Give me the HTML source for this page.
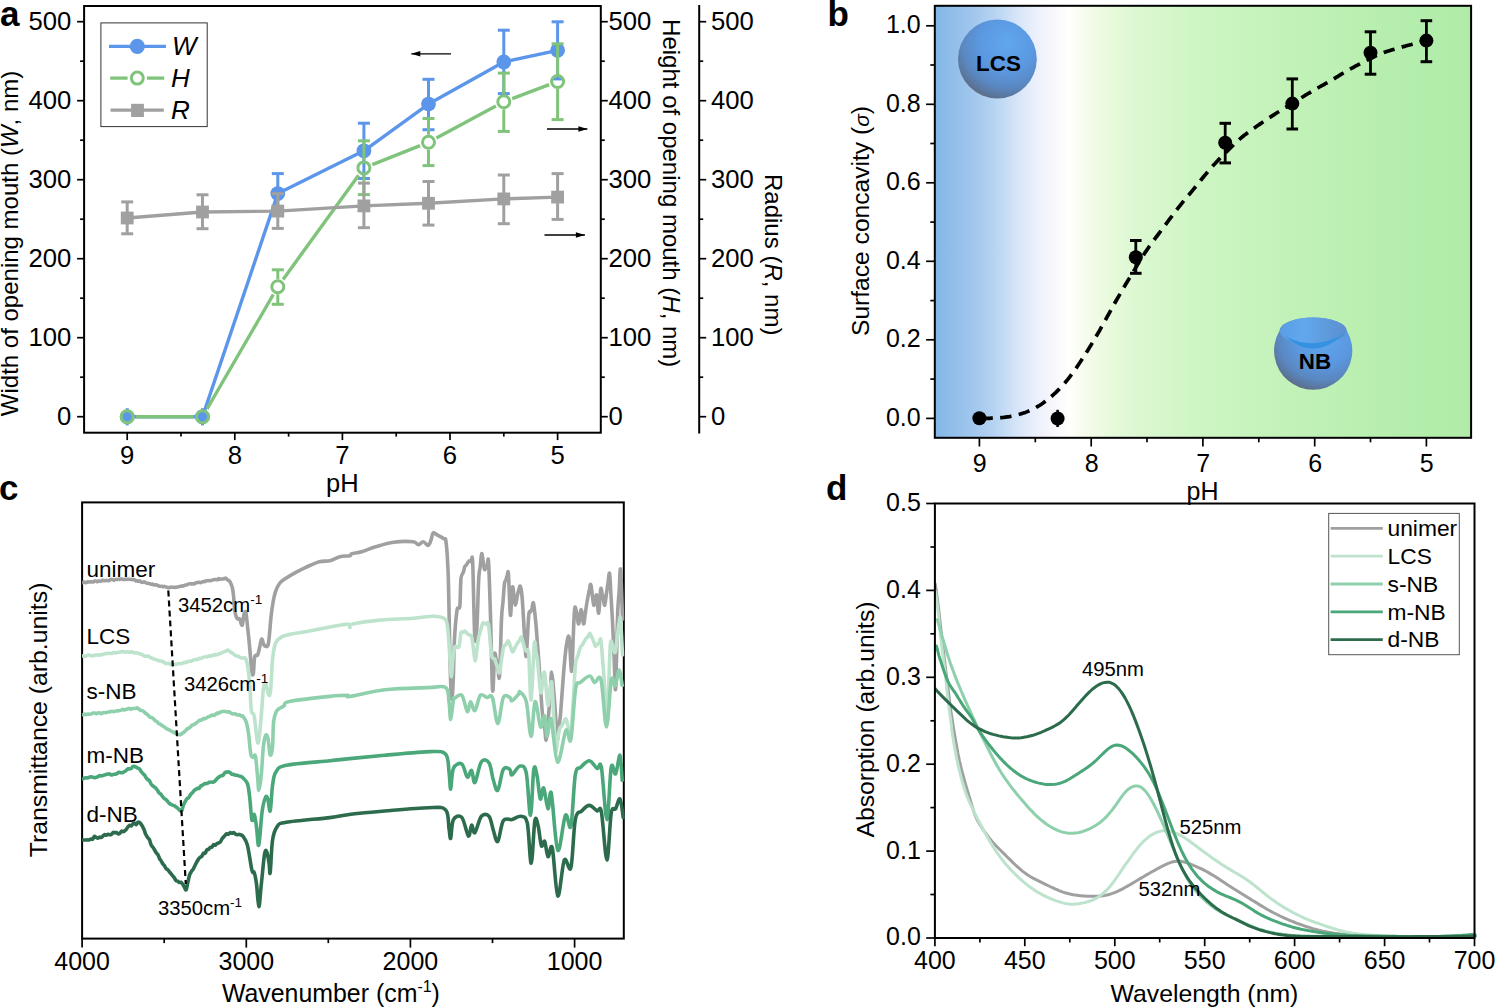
<!DOCTYPE html>
<html><head><meta charset="utf-8"><title>Figure</title>
<style>html,body{margin:0;padding:0;background:#fff;}svg{display:block;}text{font-family:"Liberation Sans",sans-serif;fill:#000;}</style>
</head><body>
<svg width="1495" height="1008" viewBox="0 0 1495 1008">
<rect width="1495" height="1008" fill="#fff"/>
<rect x="84.1" y="6" width="516.7" height="426.7" fill="none" stroke="#000" stroke-width="2.0"/>
<line x1="77.1" y1="416.7" x2="84.1" y2="416.7" stroke="#000" stroke-width="1.7" />
<text x="71.3" y="424.7" font-size="25.7" text-anchor="end" >0</text>
<line x1="80.1" y1="377.2" x2="84.1" y2="377.2" stroke="#000" stroke-width="1.7" />
<line x1="77.1" y1="337.7" x2="84.1" y2="337.7" stroke="#000" stroke-width="1.7" />
<text x="71.3" y="345.7" font-size="25.7" text-anchor="end" >100</text>
<line x1="80.1" y1="298.2" x2="84.1" y2="298.2" stroke="#000" stroke-width="1.7" />
<line x1="77.1" y1="258.7" x2="84.1" y2="258.7" stroke="#000" stroke-width="1.7" />
<text x="71.3" y="266.7" font-size="25.7" text-anchor="end" >200</text>
<line x1="80.1" y1="219.2" x2="84.1" y2="219.2" stroke="#000" stroke-width="1.7" />
<line x1="77.1" y1="179.7" x2="84.1" y2="179.7" stroke="#000" stroke-width="1.7" />
<text x="71.3" y="187.7" font-size="25.7" text-anchor="end" >300</text>
<line x1="80.1" y1="140.2" x2="84.1" y2="140.2" stroke="#000" stroke-width="1.7" />
<line x1="77.1" y1="100.7" x2="84.1" y2="100.7" stroke="#000" stroke-width="1.7" />
<text x="71.3" y="108.7" font-size="25.7" text-anchor="end" >400</text>
<line x1="80.1" y1="61.2" x2="84.1" y2="61.2" stroke="#000" stroke-width="1.7" />
<line x1="77.1" y1="21.7" x2="84.1" y2="21.7" stroke="#000" stroke-width="1.7" />
<text x="71.3" y="29.7" font-size="25.7" text-anchor="end" >500</text>
<line x1="600.8" y1="416.7" x2="607.8" y2="416.7" stroke="#000" stroke-width="1.7" />
<text x="608.4" y="424.7" font-size="25.7" text-anchor="start" >0</text>
<line x1="600.8" y1="377.2" x2="604.8" y2="377.2" stroke="#000" stroke-width="1.7" />
<line x1="600.8" y1="337.7" x2="607.8" y2="337.7" stroke="#000" stroke-width="1.7" />
<text x="608.4" y="345.7" font-size="25.7" text-anchor="start" >100</text>
<line x1="600.8" y1="298.2" x2="604.8" y2="298.2" stroke="#000" stroke-width="1.7" />
<line x1="600.8" y1="258.7" x2="607.8" y2="258.7" stroke="#000" stroke-width="1.7" />
<text x="608.4" y="266.7" font-size="25.7" text-anchor="start" >200</text>
<line x1="600.8" y1="219.2" x2="604.8" y2="219.2" stroke="#000" stroke-width="1.7" />
<line x1="600.8" y1="179.7" x2="607.8" y2="179.7" stroke="#000" stroke-width="1.7" />
<text x="608.4" y="187.7" font-size="25.7" text-anchor="start" >300</text>
<line x1="600.8" y1="140.2" x2="604.8" y2="140.2" stroke="#000" stroke-width="1.7" />
<line x1="600.8" y1="100.7" x2="607.8" y2="100.7" stroke="#000" stroke-width="1.7" />
<text x="608.4" y="108.7" font-size="25.7" text-anchor="start" >400</text>
<line x1="600.8" y1="61.2" x2="604.8" y2="61.2" stroke="#000" stroke-width="1.7" />
<line x1="600.8" y1="21.7" x2="607.8" y2="21.7" stroke="#000" stroke-width="1.7" />
<text x="608.4" y="29.7" font-size="25.7" text-anchor="start" >500</text>
<line x1="699.2" y1="5" x2="699.2" y2="433.6" stroke="#000" stroke-width="2.0" />
<line x1="699.2" y1="416.7" x2="706.2" y2="416.7" stroke="#000" stroke-width="1.7" />
<text x="710.9" y="424.7" font-size="25.7" text-anchor="start" >0</text>
<line x1="699.2" y1="377.2" x2="703.2" y2="377.2" stroke="#000" stroke-width="1.7" />
<line x1="699.2" y1="337.7" x2="706.2" y2="337.7" stroke="#000" stroke-width="1.7" />
<text x="710.9" y="345.7" font-size="25.7" text-anchor="start" >100</text>
<line x1="699.2" y1="298.2" x2="703.2" y2="298.2" stroke="#000" stroke-width="1.7" />
<line x1="699.2" y1="258.7" x2="706.2" y2="258.7" stroke="#000" stroke-width="1.7" />
<text x="710.9" y="266.7" font-size="25.7" text-anchor="start" >200</text>
<line x1="699.2" y1="219.2" x2="703.2" y2="219.2" stroke="#000" stroke-width="1.7" />
<line x1="699.2" y1="179.7" x2="706.2" y2="179.7" stroke="#000" stroke-width="1.7" />
<text x="710.9" y="187.7" font-size="25.7" text-anchor="start" >300</text>
<line x1="699.2" y1="140.2" x2="703.2" y2="140.2" stroke="#000" stroke-width="1.7" />
<line x1="699.2" y1="100.7" x2="706.2" y2="100.7" stroke="#000" stroke-width="1.7" />
<text x="710.9" y="108.7" font-size="25.7" text-anchor="start" >400</text>
<line x1="699.2" y1="61.2" x2="703.2" y2="61.2" stroke="#000" stroke-width="1.7" />
<line x1="699.2" y1="21.7" x2="706.2" y2="21.7" stroke="#000" stroke-width="1.7" />
<text x="710.9" y="29.7" font-size="25.7" text-anchor="start" >500</text>
<line x1="127.2" y1="432.6" x2="127.2" y2="440.1" stroke="#000" stroke-width="1.7" />
<text x="127.2" y="464.3" font-size="25.7" text-anchor="middle" >9</text>
<line x1="181" y1="432.6" x2="181" y2="436.6" stroke="#000" stroke-width="1.7" />
<line x1="234.8" y1="432.6" x2="234.8" y2="440.1" stroke="#000" stroke-width="1.7" />
<text x="234.8" y="464.3" font-size="25.7" text-anchor="middle" >8</text>
<line x1="288.6" y1="432.6" x2="288.6" y2="436.6" stroke="#000" stroke-width="1.7" />
<line x1="342.4" y1="432.6" x2="342.4" y2="440.1" stroke="#000" stroke-width="1.7" />
<text x="342.4" y="464.3" font-size="25.7" text-anchor="middle" >7</text>
<line x1="396.2" y1="432.6" x2="396.2" y2="436.6" stroke="#000" stroke-width="1.7" />
<line x1="450" y1="432.6" x2="450" y2="440.1" stroke="#000" stroke-width="1.7" />
<text x="450" y="464.3" font-size="25.7" text-anchor="middle" >6</text>
<line x1="503.8" y1="432.6" x2="503.8" y2="436.6" stroke="#000" stroke-width="1.7" />
<line x1="557.6" y1="432.6" x2="557.6" y2="440.1" stroke="#000" stroke-width="1.7" />
<text x="557.6" y="464.3" font-size="25.7" text-anchor="middle" >5</text>
<text x="342.3" y="491.6" font-size="25.5" text-anchor="middle" >pH</text>
<text transform="translate(17.9,416.2) rotate(-90)" font-size="24">Width of opening mouth (<tspan font-style="italic">W</tspan>, nm)</text>
<text transform="translate(663,19.1) rotate(90)" font-size="24">Height of opening mouth (<tspan font-style="italic">H</tspan>, nm)</text>
<text transform="translate(764.9,174) rotate(90)" font-size="24">Radius (<tspan font-style="italic">R</tspan>, nm)</text>
<line x1="411.3" y1="53.8" x2="451" y2="53.8" stroke="#000" stroke-width="1.3" />
<path d="M411.3,53.8 L420.3,51 L420.3,56.6 Z" fill="#000"/>
<line x1="547" y1="129" x2="587.4" y2="129" stroke="#000" stroke-width="1.3" />
<path d="M587.4,129 L578.4,126.2 L578.4,131.8 Z" fill="#000"/>
<line x1="544.5" y1="235" x2="584.9" y2="235" stroke="#000" stroke-width="1.3" />
<path d="M584.9,235 L575.9,232.2 L575.9,237.8 Z" fill="#000"/>
<polyline points="127.2,416.8 202.5,416.8 277.8,193.6 363.9,150.8 428.5,104.1 503.8,62 557.6,50.3" fill="none" stroke="#5b96ea" stroke-width="3.4" stroke-linejoin="round" stroke-linecap="round" />
<line x1="127.2" y1="408.2" x2="127.2" y2="425.4" stroke="#5b96ea" stroke-width="3" />
<line x1="202.5" y1="408.2" x2="202.5" y2="425.4" stroke="#5b96ea" stroke-width="3" />
<line x1="277.8" y1="173.6" x2="277.8" y2="187.6" stroke="#5b96ea" stroke-width="3" />
<line x1="277.8" y1="199.6" x2="277.8" y2="213.6" stroke="#5b96ea" stroke-width="3" />
<line x1="271.8" y1="173.6" x2="283.8" y2="173.6" stroke="#5b96ea" stroke-width="3" />
<line x1="271.8" y1="213.6" x2="283.8" y2="213.6" stroke="#5b96ea" stroke-width="3" />
<line x1="363.9" y1="123.2" x2="363.9" y2="144.8" stroke="#5b96ea" stroke-width="3" />
<line x1="363.9" y1="156.8" x2="363.9" y2="178.5" stroke="#5b96ea" stroke-width="3" />
<line x1="357.9" y1="123.2" x2="369.9" y2="123.2" stroke="#5b96ea" stroke-width="3" />
<line x1="357.9" y1="178.5" x2="369.9" y2="178.5" stroke="#5b96ea" stroke-width="3" />
<line x1="428.5" y1="79.3" x2="428.5" y2="98.1" stroke="#5b96ea" stroke-width="3" />
<line x1="428.5" y1="110.1" x2="428.5" y2="129.7" stroke="#5b96ea" stroke-width="3" />
<line x1="422.5" y1="79.3" x2="434.5" y2="79.3" stroke="#5b96ea" stroke-width="3" />
<line x1="422.5" y1="129.7" x2="434.5" y2="129.7" stroke="#5b96ea" stroke-width="3" />
<line x1="503.8" y1="30.2" x2="503.8" y2="56" stroke="#5b96ea" stroke-width="3" />
<line x1="503.8" y1="68" x2="503.8" y2="93.6" stroke="#5b96ea" stroke-width="3" />
<line x1="497.8" y1="30.2" x2="509.8" y2="30.2" stroke="#5b96ea" stroke-width="3" />
<line x1="497.8" y1="93.6" x2="509.8" y2="93.6" stroke="#5b96ea" stroke-width="3" />
<line x1="557.6" y1="21.8" x2="557.6" y2="44.3" stroke="#5b96ea" stroke-width="3" />
<line x1="557.6" y1="56.3" x2="557.6" y2="78.9" stroke="#5b96ea" stroke-width="3" />
<line x1="551.6" y1="21.8" x2="563.6" y2="21.8" stroke="#5b96ea" stroke-width="3" />
<line x1="551.6" y1="78.9" x2="563.6" y2="78.9" stroke="#5b96ea" stroke-width="3" />
<circle cx="127.2" cy="416.8" r="7.4" fill="#5b96ea"/>
<circle cx="202.5" cy="416.8" r="7.4" fill="#5b96ea"/>
<circle cx="277.8" cy="193.6" r="7.4" fill="#5b96ea"/>
<circle cx="363.9" cy="150.8" r="7.4" fill="#5b96ea"/>
<circle cx="428.5" cy="104.1" r="7.4" fill="#5b96ea"/>
<circle cx="503.8" cy="62" r="7.4" fill="#5b96ea"/>
<circle cx="557.6" cy="50.3" r="7.4" fill="#5b96ea"/>
<line x1="136.2" y1="416.8" x2="193.5" y2="416.8" stroke="#80c47c" stroke-width="3.4" stroke-linecap="butt"/>
<line x1="207" y1="409" x2="273.3" y2="294.5" stroke="#80c47c" stroke-width="3.4" stroke-linecap="butt"/>
<line x1="283.1" y1="279.4" x2="358.6" y2="175.2" stroke="#80c47c" stroke-width="3.4" stroke-linecap="butt"/>
<line x1="372.3" y1="164.6" x2="420.1" y2="145.6" stroke="#80c47c" stroke-width="3.4" stroke-linecap="butt"/>
<line x1="436.4" y1="138" x2="495.9" y2="106.1" stroke="#80c47c" stroke-width="3.4" stroke-linecap="butt"/>
<line x1="512.2" y1="98.6" x2="549.2" y2="84.7" stroke="#80c47c" stroke-width="3.4" stroke-linecap="butt"/>
<line x1="277.8" y1="269.8" x2="277.8" y2="279.2" stroke="#80c47c" stroke-width="3" />
<line x1="277.8" y1="294.2" x2="277.8" y2="304.3" stroke="#80c47c" stroke-width="3" />
<line x1="271.8" y1="269.8" x2="283.8" y2="269.8" stroke="#80c47c" stroke-width="3" />
<line x1="271.8" y1="304.3" x2="283.8" y2="304.3" stroke="#80c47c" stroke-width="3" />
<line x1="363.9" y1="140.8" x2="363.9" y2="160.4" stroke="#80c47c" stroke-width="3" />
<line x1="363.9" y1="175.4" x2="363.9" y2="194.6" stroke="#80c47c" stroke-width="3" />
<line x1="357.9" y1="140.8" x2="369.9" y2="140.8" stroke="#80c47c" stroke-width="3" />
<line x1="357.9" y1="194.6" x2="369.9" y2="194.6" stroke="#80c47c" stroke-width="3" />
<line x1="428.5" y1="118.5" x2="428.5" y2="134.8" stroke="#80c47c" stroke-width="3" />
<line x1="428.5" y1="149.8" x2="428.5" y2="165.6" stroke="#80c47c" stroke-width="3" />
<line x1="422.5" y1="118.5" x2="434.5" y2="118.5" stroke="#80c47c" stroke-width="3" />
<line x1="422.5" y1="165.6" x2="434.5" y2="165.6" stroke="#80c47c" stroke-width="3" />
<line x1="503.8" y1="73.1" x2="503.8" y2="94.3" stroke="#80c47c" stroke-width="3" />
<line x1="503.8" y1="109.3" x2="503.8" y2="131.4" stroke="#80c47c" stroke-width="3" />
<line x1="497.8" y1="73.1" x2="509.8" y2="73.1" stroke="#80c47c" stroke-width="3" />
<line x1="497.8" y1="131.4" x2="509.8" y2="131.4" stroke="#80c47c" stroke-width="3" />
<line x1="557.6" y1="43.8" x2="557.6" y2="74" stroke="#80c47c" stroke-width="3" />
<line x1="557.6" y1="89" x2="557.6" y2="119.6" stroke="#80c47c" stroke-width="3" />
<line x1="551.6" y1="43.8" x2="563.6" y2="43.8" stroke="#80c47c" stroke-width="3" />
<line x1="551.6" y1="119.6" x2="563.6" y2="119.6" stroke="#80c47c" stroke-width="3" />
<circle cx="127.2" cy="416.8" r="6.0" fill="none" stroke="#80c47c" stroke-width="3"/>
<circle cx="202.5" cy="416.8" r="6.0" fill="none" stroke="#80c47c" stroke-width="3"/>
<circle cx="277.8" cy="286.7" r="6.0" fill="none" stroke="#80c47c" stroke-width="3"/>
<circle cx="363.9" cy="167.9" r="6.0" fill="none" stroke="#80c47c" stroke-width="3"/>
<circle cx="428.5" cy="142.3" r="6.0" fill="none" stroke="#80c47c" stroke-width="3"/>
<circle cx="503.8" cy="101.8" r="6.0" fill="none" stroke="#80c47c" stroke-width="3"/>
<circle cx="557.6" cy="81.5" r="6.0" fill="none" stroke="#80c47c" stroke-width="3"/>
<polyline points="127.2,218 202.5,212 277.8,211.1 363.9,205.9 428.5,203.3 503.8,198.9 557.6,197.1" fill="none" stroke="#a0a0a0" stroke-width="3.4" stroke-linejoin="round" stroke-linecap="round" />
<line x1="127.2" y1="201.9" x2="127.2" y2="212" stroke="#a0a0a0" stroke-width="3" />
<line x1="127.2" y1="224" x2="127.2" y2="233.8" stroke="#a0a0a0" stroke-width="3" />
<line x1="121.2" y1="201.9" x2="133.2" y2="201.9" stroke="#a0a0a0" stroke-width="3" />
<line x1="121.2" y1="233.8" x2="133.2" y2="233.8" stroke="#a0a0a0" stroke-width="3" />
<line x1="202.5" y1="194.8" x2="202.5" y2="206" stroke="#a0a0a0" stroke-width="3" />
<line x1="202.5" y1="218" x2="202.5" y2="228.7" stroke="#a0a0a0" stroke-width="3" />
<line x1="196.5" y1="194.8" x2="208.5" y2="194.8" stroke="#a0a0a0" stroke-width="3" />
<line x1="196.5" y1="228.7" x2="208.5" y2="228.7" stroke="#a0a0a0" stroke-width="3" />
<line x1="277.8" y1="193.6" x2="277.8" y2="205.1" stroke="#a0a0a0" stroke-width="3" />
<line x1="277.8" y1="217.1" x2="277.8" y2="228.4" stroke="#a0a0a0" stroke-width="3" />
<line x1="271.8" y1="193.6" x2="283.8" y2="193.6" stroke="#a0a0a0" stroke-width="3" />
<line x1="271.8" y1="228.4" x2="283.8" y2="228.4" stroke="#a0a0a0" stroke-width="3" />
<line x1="363.9" y1="183.1" x2="363.9" y2="199.9" stroke="#a0a0a0" stroke-width="3" />
<line x1="363.9" y1="211.9" x2="363.9" y2="227.7" stroke="#a0a0a0" stroke-width="3" />
<line x1="357.9" y1="183.1" x2="369.9" y2="183.1" stroke="#a0a0a0" stroke-width="3" />
<line x1="357.9" y1="227.7" x2="369.9" y2="227.7" stroke="#a0a0a0" stroke-width="3" />
<line x1="428.5" y1="181.5" x2="428.5" y2="197.3" stroke="#a0a0a0" stroke-width="3" />
<line x1="428.5" y1="209.3" x2="428.5" y2="225.1" stroke="#a0a0a0" stroke-width="3" />
<line x1="422.5" y1="181.5" x2="434.5" y2="181.5" stroke="#a0a0a0" stroke-width="3" />
<line x1="422.5" y1="225.1" x2="434.5" y2="225.1" stroke="#a0a0a0" stroke-width="3" />
<line x1="503.8" y1="175" x2="503.8" y2="192.9" stroke="#a0a0a0" stroke-width="3" />
<line x1="503.8" y1="204.9" x2="503.8" y2="223.7" stroke="#a0a0a0" stroke-width="3" />
<line x1="497.8" y1="175" x2="509.8" y2="175" stroke="#a0a0a0" stroke-width="3" />
<line x1="497.8" y1="223.7" x2="509.8" y2="223.7" stroke="#a0a0a0" stroke-width="3" />
<line x1="557.6" y1="173.6" x2="557.6" y2="191.1" stroke="#a0a0a0" stroke-width="3" />
<line x1="557.6" y1="203.1" x2="557.6" y2="219.4" stroke="#a0a0a0" stroke-width="3" />
<line x1="551.6" y1="173.6" x2="563.6" y2="173.6" stroke="#a0a0a0" stroke-width="3" />
<line x1="551.6" y1="219.4" x2="563.6" y2="219.4" stroke="#a0a0a0" stroke-width="3" />
<rect x="120.8" y="211.6" width="12.8" height="12.8" fill="#a0a0a0"/>
<rect x="196.1" y="205.6" width="12.8" height="12.8" fill="#a0a0a0"/>
<rect x="271.4" y="204.7" width="12.8" height="12.8" fill="#a0a0a0"/>
<rect x="357.5" y="199.5" width="12.8" height="12.8" fill="#a0a0a0"/>
<rect x="422.1" y="196.9" width="12.8" height="12.8" fill="#a0a0a0"/>
<rect x="497.4" y="192.5" width="12.8" height="12.8" fill="#a0a0a0"/>
<rect x="551.2" y="190.7" width="12.8" height="12.8" fill="#a0a0a0"/>
<rect x="100.9" y="22.9" width="106.3" height="103.7" fill="#fff" stroke="#333" stroke-width="1"/>
<line x1="109" y1="46.3" x2="166" y2="46.3" stroke="#5b96ea" stroke-width="3.3" />
<circle cx="137.3" cy="46.3" r="7.6" fill="#5b96ea"/>
<line x1="110.2" y1="78.1" x2="127.6" y2="78.1" stroke="#80c47c" stroke-width="3.3" />
<line x1="147" y1="78.1" x2="164.2" y2="78.1" stroke="#80c47c" stroke-width="3.3" />
<circle cx="137.3" cy="78.1" r="6.0" fill="none" stroke="#80c47c" stroke-width="3"/>
<line x1="110.5" y1="110.2" x2="163.8" y2="110.2" stroke="#a0a0a0" stroke-width="3.3" />
<rect x="131.1" y="103.8" width="12.8" height="13.2" fill="#a0a0a0"/>
<text x="172" y="54.6" font-size="26" text-anchor="start" font-style="italic">W</text>
<text x="171" y="86.7" font-size="26" text-anchor="start" font-style="italic">H</text>
<text x="171" y="118.9" font-size="26" text-anchor="start" font-style="italic">R</text>
<text x="0" y="26" font-size="35" text-anchor="start" font-weight="bold">a</text>
<defs><linearGradient id="bg" x1="0" y1="0" x2="1" y2="0"><stop offset="0" stop-color="#82b6e6"/><stop offset="0.077" stop-color="#a4c8ee"/><stop offset="0.114" stop-color="#b8d5f2"/><stop offset="0.151" stop-color="#d5e4f8"/><stop offset="0.189" stop-color="#ecf0fc"/><stop offset="0.226" stop-color="#faf8fc"/><stop offset="0.252" stop-color="#fffffc"/><stop offset="0.276" stop-color="#f7fcee"/><stop offset="0.327" stop-color="#e8fadc"/><stop offset="0.375" stop-color="#dcf8d2"/><stop offset="0.50" stop-color="#cdf5c3"/><stop offset="0.70" stop-color="#c0f1b6"/><stop offset="0.85" stop-color="#b6eead"/><stop offset="1" stop-color="#b0eca8"/></linearGradient><radialGradient id="sph" cx="0.62" cy="0.3" r="0.78" fx="0.62" fy="0.3"><stop offset="0" stop-color="#60a7ef"/><stop offset="0.45" stop-color="#5b98e0"/><stop offset="0.72" stop-color="#5a88c2"/><stop offset="0.88" stop-color="#5a7599"/><stop offset="1" stop-color="#64656b"/></radialGradient><linearGradient id="bowl" x1="0" y1="0" x2="1" y2="0"><stop offset="0" stop-color="#5a9de6"/><stop offset="0.35" stop-color="#62a8ec"/><stop offset="1" stop-color="#5b8fcf"/></linearGradient></defs>
<rect x="934.8" y="5.8" width="536.3" height="432" fill="url(#bg)"/>
<rect x="934.8" y="5.8" width="536.3" height="432" fill="none" stroke="#000" stroke-width="2.0"/>
<line x1="926.1" y1="418.4" x2="934.8" y2="418.4" stroke="#000" stroke-width="1.7" />
<text x="920.7" y="425.6" font-size="25" text-anchor="end" >0.0</text>
<line x1="930.3" y1="379.1" x2="934.8" y2="379.1" stroke="#000" stroke-width="1.7" />
<line x1="926.1" y1="339.8" x2="934.8" y2="339.8" stroke="#000" stroke-width="1.7" />
<text x="920.7" y="347" font-size="25" text-anchor="end" >0.2</text>
<line x1="930.3" y1="300.6" x2="934.8" y2="300.6" stroke="#000" stroke-width="1.7" />
<line x1="926.1" y1="261.3" x2="934.8" y2="261.3" stroke="#000" stroke-width="1.7" />
<text x="920.7" y="268.5" font-size="25" text-anchor="end" >0.4</text>
<line x1="930.3" y1="222.1" x2="934.8" y2="222.1" stroke="#000" stroke-width="1.7" />
<line x1="926.1" y1="182.8" x2="934.8" y2="182.8" stroke="#000" stroke-width="1.7" />
<text x="920.7" y="190" font-size="25" text-anchor="end" >0.6</text>
<line x1="930.3" y1="143.5" x2="934.8" y2="143.5" stroke="#000" stroke-width="1.7" />
<line x1="926.1" y1="104.3" x2="934.8" y2="104.3" stroke="#000" stroke-width="1.7" />
<text x="920.7" y="111.5" font-size="25" text-anchor="end" >0.8</text>
<line x1="930.3" y1="65" x2="934.8" y2="65" stroke="#000" stroke-width="1.7" />
<line x1="926.1" y1="25.8" x2="934.8" y2="25.8" stroke="#000" stroke-width="1.7" />
<text x="920.7" y="33" font-size="25" text-anchor="end" >1.0</text>
<line x1="979.4" y1="437.8" x2="979.4" y2="446.5" stroke="#000" stroke-width="1.7" />
<text x="979.8" y="471.6" font-size="25" text-anchor="middle" >9</text>
<line x1="1035.3" y1="437.8" x2="1035.3" y2="442.3" stroke="#000" stroke-width="1.7" />
<line x1="1091.2" y1="437.8" x2="1091.2" y2="446.5" stroke="#000" stroke-width="1.7" />
<text x="1091.6" y="471.6" font-size="25" text-anchor="middle" >8</text>
<line x1="1147" y1="437.8" x2="1147" y2="442.3" stroke="#000" stroke-width="1.7" />
<line x1="1202.9" y1="437.8" x2="1202.9" y2="446.5" stroke="#000" stroke-width="1.7" />
<text x="1203.3" y="471.6" font-size="25" text-anchor="middle" >7</text>
<line x1="1258.8" y1="437.8" x2="1258.8" y2="442.3" stroke="#000" stroke-width="1.7" />
<line x1="1314.7" y1="437.8" x2="1314.7" y2="446.5" stroke="#000" stroke-width="1.7" />
<text x="1315.1" y="471.6" font-size="25" text-anchor="middle" >6</text>
<line x1="1370.5" y1="437.8" x2="1370.5" y2="442.3" stroke="#000" stroke-width="1.7" />
<line x1="1426.4" y1="437.8" x2="1426.4" y2="446.5" stroke="#000" stroke-width="1.7" />
<text x="1426.8" y="471.6" font-size="25" text-anchor="middle" >5</text>
<text x="1202.5" y="499.6" font-size="25" text-anchor="middle" >pH</text>
<text transform="translate(868.8,336) rotate(-90)" font-size="24.6">Surface concavity (<tspan font-style="italic" font-size="21">σ</tspan>)</text>
<text x="827.5" y="26" font-size="35" text-anchor="start" font-weight="bold">b</text>
<circle cx="997.4" cy="59" r="39.4" fill="url(#sph)"/>
<text x="998.5" y="70.7" font-size="22.4" text-anchor="middle" font-weight="bold">LCS</text>
<path d="M1279.4,331 A33.8,13.5 0 0 1 1347,331 A39.1,39.1 0 1 1 1279.4,331 Z" fill="url(#sph)"/>
<ellipse cx="1313.2" cy="331" rx="33.3" ry="13.5" fill="url(#bowl)"/>
<path d="M1285.5,336.5 Q1315,351.6 1344.5,333 Q1315,362.6 1285.5,336.5 Z" fill="#3592e2"/>
<text x="1315" y="368.5" font-size="22.4" text-anchor="middle" font-weight="bold">NB</text>
<polyline points="979.4,418.3 981.4,418.3 983.4,418.3 985.4,418.3 987.4,418.3 989.4,418.3 991.4,418.2 993.4,418.2 995.4,418.1 997.4,418 999.4,417.9 1001.4,417.7 1003.4,417.5 1005.4,417.2 1007.4,416.9 1009.4,416.6 1011.4,416.2 1013.4,415.8 1015.4,415.3 1017.4,414.8 1019.4,414.3 1021.4,413.7 1023.4,413.1 1025.4,412.4 1027.4,411.6 1029.4,410.8 1031.4,409.9 1033.4,408.9 1035.4,407.9 1037.4,406.7 1039.4,405.5 1041.4,404.2 1043.4,402.8 1045.4,401.3 1047.4,399.8 1049.4,398.2 1051.4,396.5 1053.4,394.7 1055.4,392.9 1057.4,390.9 1059.4,388.9 1061.4,386.8 1063.4,384.6 1065.4,382.3 1067.4,379.9 1069.4,377.3 1071.4,374.7 1073.4,372 1075.4,369.2 1077.4,366.3 1079.4,363.3 1081.4,360.3 1083.4,357.2 1085.4,354.1 1087.4,350.9 1089.4,347.6 1091.4,344.4 1093.4,341 1095.4,337.7 1097.4,334.3 1099.4,330.8 1101.4,327.2 1103.4,323.7 1105.4,320.1 1107.4,316.4 1109.4,312.8 1111.4,309.2 1113.4,305.6 1115.4,302 1117.4,298.5 1119.4,295.1 1121.4,291.6 1123.4,288.2 1125.4,284.8 1127.4,281.5 1129.4,278.1 1131.4,274.8 1133.4,271.5 1135.4,268.2 1137.4,264.9 1139.4,261.6 1141.4,258.4 1143.4,255.2 1145.4,252.1 1147.4,249.2 1149.4,246.3 1151.4,243.5 1153.4,240.8 1155.4,238.1 1157.4,235.5 1159.4,232.8 1161.4,230.1 1163.4,227.5 1165.4,224.8 1167.4,222.1 1169.4,219.4 1171.4,216.8 1173.4,214.1 1175.4,211.5 1177.4,208.9 1179.4,206.3 1181.4,203.8 1183.4,201.4 1185.4,199 1187.4,196.6 1189.4,194.3 1191.4,191.9 1193.4,189.4 1195.4,187 1197.4,184.5 1199.4,182 1201.4,179.5 1203.4,177 1205.4,174.6 1207.4,172.2 1209.4,169.9 1211.4,167.6 1213.4,165.3 1215.4,163.2 1217.4,161 1219.4,158.9 1221.4,156.9 1223.4,154.9 1225.4,152.9 1227.4,150.9 1229.4,148.9 1231.4,147 1233.4,145 1235.4,143.1 1237.4,141.3 1239.4,139.4 1241.4,137.7 1243.4,136 1245.4,134.4 1247.4,132.9 1249.4,131.4 1251.4,130 1253.4,128.6 1255.4,127.2 1257.4,125.8 1259.4,124.4 1261.4,123.1 1263.4,121.7 1265.4,120.4 1267.4,119 1269.4,117.7 1271.4,116.4 1273.4,115.1 1275.4,113.8 1277.4,112.5 1279.4,111.3 1281.4,110 1283.4,108.8 1285.4,107.6 1287.4,106.4 1289.4,105.2 1291.4,104 1293.4,102.8 1295.4,101.5 1297.4,100.3 1299.4,99 1301.4,97.8 1303.4,96.5 1305.4,95.2 1307.4,94 1309.4,92.8 1311.4,91.6 1313.4,90.4 1315.4,89.2 1317.4,88.1 1319.4,87 1321.4,85.9 1323.4,84.8 1325.4,83.7 1327.4,82.6 1329.4,81.5 1331.4,80.3 1333.4,79.1 1335.4,77.9 1337.4,76.7 1339.4,75.4 1341.4,74.2 1343.4,73 1345.4,71.8 1347.4,70.7 1349.4,69.5 1351.4,68.4 1353.4,67.3 1355.4,66.2 1357.4,65.2 1359.4,64.1 1361.4,63 1363.4,62 1365.4,61 1367.4,60 1369.4,59 1371.4,58 1373.4,57 1375.4,56 1377.4,55.1 1379.4,54.2 1381.4,53.4 1383.4,52.7 1385.4,52 1387.4,51.3 1389.4,50.7 1391.4,50.1 1393.4,49.5 1395.4,48.9 1397.4,48.3 1399.4,47.7 1401.4,47.2 1403.4,46.6 1405.4,46.1 1407.4,45.5 1409.4,45 1411.4,44.5 1413.4,43.9 1415.4,43.4 1417.4,42.9 1419.4,42.4 1421.4,41.9 1423.4,41.4 1425.4,40.9 1426.4,40.7" fill="none" stroke="#000" stroke-width="3.7" stroke-linejoin="round" stroke-linecap="butt" stroke-dasharray="11.4 7.4" stroke-dashoffset="-2"/>
<circle cx="979.4" cy="418.3" r="7.0" fill="#000"/>
<circle cx="1057.6" cy="418.5" r="7.0" fill="#000"/>
<line x1="1135.8" y1="240.5" x2="1135.8" y2="273.3" stroke="#000" stroke-width="2.8" />
<line x1="1130" y1="240.5" x2="1141.6" y2="240.5" stroke="#000" stroke-width="3.0" />
<line x1="1130" y1="273.3" x2="1141.6" y2="273.3" stroke="#000" stroke-width="3.0" />
<circle cx="1135.8" cy="257.3" r="7.0" fill="#000"/>
<line x1="1225.2" y1="123.3" x2="1225.2" y2="162.9" stroke="#000" stroke-width="2.8" />
<line x1="1219.5" y1="123.3" x2="1231" y2="123.3" stroke="#000" stroke-width="3.0" />
<line x1="1219.5" y1="162.9" x2="1231" y2="162.9" stroke="#000" stroke-width="3.0" />
<circle cx="1225.2" cy="142.8" r="7.0" fill="#000"/>
<line x1="1292.3" y1="78.9" x2="1292.3" y2="129" stroke="#000" stroke-width="2.8" />
<line x1="1286.5" y1="78.9" x2="1298.1" y2="78.9" stroke="#000" stroke-width="3.0" />
<line x1="1286.5" y1="129" x2="1298.1" y2="129" stroke="#000" stroke-width="3.0" />
<circle cx="1292.3" cy="103.6" r="7.0" fill="#000"/>
<line x1="1370.5" y1="31.8" x2="1370.5" y2="74.2" stroke="#000" stroke-width="2.8" />
<line x1="1364.7" y1="31.8" x2="1376.3" y2="31.8" stroke="#000" stroke-width="3.0" />
<line x1="1364.7" y1="74.2" x2="1376.3" y2="74.2" stroke="#000" stroke-width="3.0" />
<circle cx="1370.5" cy="52.8" r="7.0" fill="#000"/>
<line x1="1426.4" y1="20.7" x2="1426.4" y2="61.7" stroke="#000" stroke-width="2.8" />
<line x1="1420.6" y1="20.7" x2="1432.2" y2="20.7" stroke="#000" stroke-width="3.0" />
<line x1="1420.6" y1="61.7" x2="1432.2" y2="61.7" stroke="#000" stroke-width="3.0" />
<circle cx="1426.4" cy="40.6" r="7.0" fill="#000"/>
<line x1="1057.6" y1="409.8" x2="1057.6" y2="427" stroke="#000" stroke-width="2.6" />
<rect x="82.1" y="502.4" width="541.7" height="436.2" fill="none" stroke="#000" stroke-width="2.0"/>
<line x1="82.1" y1="938.6" x2="82.1" y2="947.6" stroke="#000" stroke-width="1.7" />
<text x="82.1" y="969.7" font-size="25" text-anchor="middle" >4000</text>
<line x1="164.2" y1="938.6" x2="164.2" y2="943.1" stroke="#000" stroke-width="1.7" />
<line x1="246.3" y1="938.6" x2="246.3" y2="947.6" stroke="#000" stroke-width="1.7" />
<text x="246.3" y="969.7" font-size="25" text-anchor="middle" >3000</text>
<line x1="328.3" y1="938.6" x2="328.3" y2="943.1" stroke="#000" stroke-width="1.7" />
<line x1="410.4" y1="938.6" x2="410.4" y2="947.6" stroke="#000" stroke-width="1.7" />
<text x="410.4" y="969.7" font-size="25" text-anchor="middle" >2000</text>
<line x1="492.5" y1="938.6" x2="492.5" y2="943.1" stroke="#000" stroke-width="1.7" />
<line x1="574.6" y1="938.6" x2="574.6" y2="947.6" stroke="#000" stroke-width="1.7" />
<text x="574.6" y="969.7" font-size="25" text-anchor="middle" >1000</text>
<text x="330.9" y="1001.8" font-size="24.9" text-anchor="middle">Wavenumber (cm<tspan font-size="16" dy="-10">-1</tspan><tspan dy="10">)</tspan></text>
<text transform="translate(47,857.3) rotate(-90)" font-size="24.8">Transmittance (arb.units)</text>
<text x="-1" y="499.5" font-size="35" text-anchor="start" font-weight="bold">c</text>
<g clip-path="url(#clipc)">
<defs><clipPath id="clipc"><rect x="82.1" y="502.4" width="542.7" height="436.2"/></clipPath></defs>
<path d="M82.6,582.5 C82.8,582.4 83.5,582 83.9,582 C84.4,582 84.8,582.6 85.2,582.6 C85.7,582.7 86.1,582.6 86.6,582.4 C87,582.3 87.5,581.9 87.9,581.8 C88.3,581.7 88.8,582 89.2,582 C89.7,582 90.1,581.8 90.5,581.8 C91,581.8 91.4,581.9 91.9,581.9 C92.3,581.9 92.7,582.1 93.2,581.9 C93.6,581.8 94.1,581.3 94.5,581.1 C94.9,581 95.4,580.9 95.8,581 C96.3,581 96.7,581.6 97.2,581.7 C97.6,581.7 98,581.2 98.5,581.1 C98.9,581 99.4,581.1 99.8,581.1 C100.2,581.1 100.7,581.4 101.1,581.2 C101.6,581.1 102,580.4 102.5,580.3 C102.9,580.2 103.3,580.6 103.8,580.6 C104.2,580.7 104.7,580.9 105.1,580.8 C105.5,580.7 106,580.2 106.4,580.2 C106.9,580.2 107.3,580.7 107.8,580.7 C108.2,580.8 108.6,580.8 109.1,580.6 C109.5,580.4 110,579.8 110.4,579.6 C110.8,579.4 111.3,579.4 111.7,579.4 C112.2,579.5 112.6,579.7 113,579.8 C113.5,579.9 113.9,580.1 114.4,580.1 C114.8,580 115.3,579.6 115.7,579.5 C116.1,579.4 116.6,579.4 117,579.4 C117.5,579.3 117.9,579.2 118.3,579.2 C118.8,579.2 119.2,579.5 119.7,579.4 C120.1,579.4 120.6,579.1 121,579 C121.4,579 121.9,579.2 122.3,579.2 C122.8,579.3 123.2,579.4 123.7,579.4 C124.1,579.5 124.5,579.5 125,579.5 C125.4,579.5 125.9,579.3 126.3,579.2 C126.7,579.2 127.2,579.2 127.6,579.2 C128.1,579.2 128.5,579.2 128.9,579.2 C129.4,579.3 129.8,579.4 130.3,579.5 C130.7,579.5 131.2,579.5 131.6,579.5 C132,579.5 132.5,579.6 133,579.6 C133.4,579.6 133.9,579.4 134.3,579.6 C134.8,579.8 135.3,580.6 135.7,580.8 C136.2,581 136.6,580.7 137.1,580.8 C137.5,580.9 138,581.1 138.4,581.2 C138.9,581.2 139.4,580.9 139.8,581 C140.3,581.2 140.7,581.9 141.2,582.1 C141.6,582.4 142.1,582.4 142.6,582.3 C143,582.3 143.5,581.9 143.9,581.9 C144.4,581.9 144.8,582.2 145.3,582.4 C145.7,582.6 146.2,582.9 146.7,583.1 C147.1,583.3 147.6,583.3 148,583.4 C148.5,583.5 148.9,583.4 149.4,583.5 C149.9,583.6 150.3,584.2 150.8,584.2 C151.2,584.3 151.7,584 152.2,584 C152.6,584.1 153.1,584.6 153.5,584.8 C154,584.9 154.4,584.9 154.9,584.9 C155.4,584.9 155.8,584.8 156.3,584.8 C156.7,584.9 157.2,585.2 157.7,585.4 C158.1,585.6 158.6,585.9 159,586 C159.5,586.2 160,586.3 160.4,586.3 C160.9,586.3 161.3,586.2 161.8,586.3 C162.3,586.3 162.7,586.6 163.2,586.7 C163.6,586.7 164.1,586.4 164.5,586.4 C165,586.5 165.5,586.8 165.9,586.9 C166.4,587.1 166.8,587.4 167.3,587.5 C167.8,587.6 168.2,587.8 168.7,587.7 C169.2,587.7 169.7,587.4 170.1,587.3 C170.6,587.2 171.1,587 171.5,587 C172,587 172.5,587.3 173,587.3 C173.4,587.4 173.9,587.4 174.4,587.4 C174.8,587.4 175.3,587.4 175.8,587.3 C176.3,587.3 176.7,587.2 177.2,587.1 C177.7,587 178.1,586.8 178.6,586.7 C179.1,586.5 179.5,586.5 180,586.4 C180.4,586.3 180.9,586.2 181.4,586.1 C181.8,586.1 182.3,586.2 182.8,586.1 C183.2,586 183.7,585.7 184.1,585.5 C184.6,585.4 185.1,585.2 185.5,585.1 C186,585 186.5,585 186.9,584.8 C187.4,584.7 187.9,584.3 188.3,584.1 C188.8,583.9 189.2,583.8 189.7,583.8 C190.2,583.7 190.6,583.9 191.1,583.9 C191.6,583.9 192,583.8 192.5,583.8 C192.9,583.8 193.4,584 193.9,583.9 C194.3,583.8 194.8,583.4 195.2,583.2 C195.7,583 196.1,582.9 196.6,582.7 C197.1,582.6 197.5,582.3 198,582.3 C198.4,582.2 198.9,582.3 199.4,582.3 C199.8,582.4 200.3,582.6 200.7,582.6 C201.2,582.5 201.7,582.2 202.1,582.1 C202.6,581.9 203,581.7 203.5,581.6 C204,581.5 204.4,581.8 204.9,581.6 C205.3,581.5 205.8,580.9 206.2,580.8 C206.7,580.6 207.2,580.8 207.6,580.8 C208.1,580.7 208.5,580.5 209,580.5 C209.5,580.5 209.9,580.8 210.4,580.8 C210.9,580.7 211.3,580.3 211.8,580.2 C212.3,580 212.7,580 213.2,579.9 C213.7,579.7 214.1,579.5 214.6,579.5 C215.1,579.4 215.5,579.5 216,579.5 C216.5,579.6 216.9,579.9 217.4,579.8 C217.9,579.6 218.3,578.7 218.8,578.6 C219.3,578.5 219.7,579.1 220.2,579.2 C220.7,579.3 221.1,579.1 221.6,579 C222.1,579 222.5,579 223,578.9 C223.5,578.8 223.9,578.7 224.4,578.5 C224.9,578.4 225.3,577.9 225.8,578.1 C226.3,578.3 226.7,579.2 227.2,579.5 C227.6,579.9 228.1,580.1 228.5,580.4 C229,580.7 229.3,580.3 229.9,581.5 C230.5,582.7 231.7,585.2 232.3,587.5 C232.9,589.8 233.1,591.4 233.5,595.4 C233.9,599.4 234.3,607.5 234.9,611.3 C235.5,615.1 236.3,617 236.9,618.2 C237.5,619.4 237.9,618.6 238.4,618.8 C238.8,618.9 239.2,618.1 239.8,619.2 C240.4,620.3 241.5,625.9 242.2,625.2 C242.9,624.5 243.2,617.4 243.8,615.2 C244.4,613.1 245.1,610 245.8,612.3 C246.5,614.6 247.1,623 247.8,629.1 C248.5,635.2 249.2,642 249.8,649 C250.5,656 251.1,666.7 251.7,670.8 C252.3,674.9 252.8,676.1 253.3,673.8 C253.8,671.5 254,660 254.7,656.9 C255.4,653.8 256.9,656.5 257.7,654.9 C258.5,653.2 259,649.6 259.7,647 C260.4,644.4 261,639.3 261.7,639 C262.4,638.7 263,643.8 264,645 C265,646.2 266.7,647.3 267.6,646 C268.5,644.7 268.6,642.1 269.2,637 C269.8,631.9 270.5,621.2 271.2,615.2 C271.9,609.2 272.5,605.3 273.2,601.3 C273.9,597.3 274.6,594.4 275.6,591.4 C276.7,588.4 277.9,585.6 279.5,583.5 C281.1,581.4 282.9,580.3 285.5,578.5 C288.1,576.7 292.1,574.4 295.4,572.6 C298.7,570.8 301.3,569.4 305.3,567.6 C309.3,565.8 315.1,562.9 319.2,561.7 C323.3,560.6 326.6,561.5 330,560.7 C333.4,559.9 336.6,557.5 339.9,556.7 C343.2,555.9 347.8,556.2 349.8,555.7 C351.8,555.2 349.8,554.4 351.8,553.7 C353.8,553 357.7,552.9 361.7,551.7 C365.7,550.6 370.3,548.4 375.6,546.8 C380.9,545.2 387.2,543 393.5,542.2 C399.8,541.4 409.2,541.4 413.3,541.8 C417.4,542.2 416.6,544.8 418.2,544.8 C419.8,544.8 421.5,541.7 423.2,541.8 C424.9,541.9 426.9,545.7 428.2,545.4 C429.5,545.1 430.3,541.9 431.1,539.8 C431.9,537.7 432.1,533.7 433.1,532.9 C434.1,532.1 435.3,533.9 437.1,534.9 C438.9,535.9 442.5,537.6 444,538.8 C445.5,539.9 445.3,536.7 446,541.8 C446.7,546.9 447.5,558.4 448,569.6 C448.5,580.8 448.7,594.3 449,609.2 C449.3,624.1 449.7,645.2 450,658.8 C450.3,672.3 450.7,683.9 451,690.5 C451.3,697.1 451.6,700.5 452,698.5 C452.4,696.5 452.9,688.5 453.3,678.6 C453.7,668.7 453.9,650.2 454.5,639 C455.1,627.8 456.2,616.3 456.9,611.2 C457.5,606.1 457.9,609.1 458.4,608.1 C458.9,607.1 459.5,610.1 459.9,605.3 C460.3,600.5 460.5,584.7 460.9,579.5 C461.3,574.3 461.8,575.6 462.2,574.3 C462.6,573 463.1,572.9 463.5,571.6 C463.9,570.4 464.3,567.7 464.8,566.6 C465.3,565.5 465.9,565.5 466.5,564.8 C467,564 467.6,562.7 468.1,562.1 C468.7,561.4 469.3,560.8 469.8,560.7 C470.3,560.6 470.8,561.4 471.2,561.7 C471.7,562 472.1,550.5 472.7,562.7 C473.3,574.9 474,623.7 474.7,635.1 C475.4,646.5 476,640.4 476.7,631.1 C477.4,621.8 478.1,590.3 478.7,579.5 C479.3,568.7 479.7,570.9 480.2,566.6 C480.7,562.3 481.2,554.6 481.7,553.7 C482.2,552.8 482.7,558.7 483.1,561.4 C483.6,564 484.1,568.7 484.6,569.6 C485.1,570.5 485.5,567.7 485.9,567 C486.4,566.2 486.8,565.8 487.3,565.1 C487.7,564.4 488,553.7 488.6,562.7 C489.2,571.7 489.9,597.9 490.6,619.2 C491.3,640.5 491.9,684.7 492.6,690.6 C493.3,696.5 494,660.1 494.6,654.9 C495.2,649.7 495.6,657.8 496.1,659.1 C496.5,660.5 496.9,660 497.5,662.9 C498.1,665.8 498.8,684 499.5,676.7 C500.2,669.4 500.9,631.7 501.5,619.2 C502.1,606.7 502.5,607.8 503,601.8 C503.5,595.9 504,587.1 504.5,583.5 C505,579.9 505.4,581.7 505.8,580.3 C506.3,579 506.7,576.4 507.2,575.5 C507.6,574.5 508,568 508.5,574.6 C509,581.2 509.8,613.1 510.4,615.2 C511,617.4 511.8,590.8 512.4,587.5 C513,584.2 513.4,592.2 513.9,595.2 C514.4,598.2 514.8,605.3 515.4,605.3 C516,605.3 516.8,598 517.4,595.4 C518,592.8 518.4,591 518.9,589.5 C519.4,588 519.8,584.9 520.4,586.5 C521,588.1 521.6,590.5 522.3,599.4 C523,608.3 524.1,630.3 524.8,639.7 C525.5,649.1 525.6,659.6 526.3,655.6 C526.9,651.6 528,623.2 528.7,615.9 C529.4,608.6 529.8,613.2 530.3,612 C530.8,610.9 531.4,610.5 531.9,609 C532.4,607.5 532.8,600.7 533.5,603.2 C534.2,605.7 535.2,616.9 535.9,623.8 C536.6,630.7 536.9,637.7 537.5,644.4 C538,651 538.5,656.2 539,663.5 C539.5,670.8 540.1,680.1 540.6,688 C541.1,695.9 541.7,705.5 542.2,711.1 C542.7,716.7 543.1,718.3 543.5,721.4 C544,724.5 544.4,726.5 544.9,729.6 C545.3,732.6 545.6,742.2 546.2,739.7 C546.8,737.2 547.9,721.9 548.6,714.3 C549.3,706.7 549.6,701.1 550.2,694.1 C550.7,687.1 551,672 551.7,672.2 C552.4,672.4 553.4,687.6 554.1,695.2 C554.8,702.8 555.2,710.4 555.7,717.9 C556.2,725.3 556.8,738.3 557.3,739.7 C557.8,741.1 558.4,730.2 558.9,726 C559.4,721.8 559.9,720.7 560.5,714.3 C561.1,707.9 561.8,696.2 562.5,687.7 C563.1,679.3 563.7,671 564.4,663.5 C565.1,656 566,647.1 566.8,642.9 C567.6,638.7 568.4,633.4 569.2,638.1 C570,642.9 570.9,671.5 571.6,671.4 C572.3,671.3 572.7,648.3 573.2,637.7 C573.7,627.1 574.1,611.5 574.8,607.9 C575.4,604.3 576.5,613.2 577.1,615.9 C577.8,618.5 578,624.9 578.7,623.8 C579.4,622.7 580.3,609.5 581.1,609.5 C581.9,609.5 582.8,623 583.5,623.8 C584.2,624.6 584.6,618 585.1,614.6 C585.7,611.2 586.3,606.4 586.8,603.3 C587.3,600.2 587.7,598.4 588.1,596 C588.6,593.7 589,591.1 589.5,589.2 C589.9,587.3 590.3,583.5 590.8,584.5 C591.3,585.5 591.8,591.9 592.3,595.4 C592.8,598.9 593.3,604.6 593.8,605.3 C594.3,606 594.8,601.4 595.2,599.7 C595.7,598.1 596.1,593.1 596.7,595.4 C597.3,597.7 598,614.3 598.7,613.3 C599.4,612.3 600.1,592.8 600.7,589.4 C601.3,586 601.6,591.4 602,593 C602.5,594.5 602.9,596.6 603.4,598.6 C603.8,600.7 604.2,605.9 604.7,605.3 C605.2,604.7 605.8,598.6 606.3,594.8 C606.9,591.1 607.4,586.4 608,582.8 C608.5,579.3 609.1,571.2 609.6,573.6 C610.1,576 610.6,589.2 611.1,597.5 C611.6,605.8 612.1,613.3 612.6,623.2 C613.1,633.1 613.6,645.8 614.1,656.7 C614.6,667.6 615,695.5 615.6,688.6 C616.2,681.7 617,631.3 617.6,615.2 C618.2,599.1 618.6,599.8 619.1,592.2 C619.6,584.6 620,565.1 620.6,569.6 C621.2,574.1 622.2,610.9 622.5,619.2" fill="none" stroke="#a0a0a0" stroke-width="3.6" stroke-linejoin="round" stroke-linecap="round" />
<path d="M82.6,655.9 C82.9,656 83.7,656.3 84.3,656.3 C84.9,656.4 85.5,656.5 86,656.2 C86.6,656 87.2,655.3 87.8,655.1 C88.3,654.9 88.9,654.9 89.5,655 C90.1,655.1 90.6,655.7 91.2,655.8 C91.8,655.9 92.3,655.6 92.9,655.6 C93.5,655.5 94.1,655.5 94.6,655.4 C95.2,655.3 95.8,654.9 96.4,654.9 C96.9,654.8 97.5,655.1 98.1,655.1 C98.7,655.1 99.2,655 99.8,654.9 C100.4,654.8 101,654.8 101.5,654.7 C102.1,654.6 102.7,654.6 103.3,654.4 C103.9,654.2 104.4,653.7 105,653.6 C105.6,653.5 106.2,653.7 106.8,653.6 C107.3,653.6 107.9,653.3 108.5,653.3 C109.1,653.2 109.6,653.3 110.2,653.4 C110.8,653.4 111.4,653.5 112,653.4 C112.5,653.2 113.1,652.6 113.7,652.5 C114.3,652.4 114.8,653 115.3,653 C115.9,653 116.4,652.6 117,652.4 C117.5,652.3 118,652.3 118.6,652.3 C119.1,652.2 119.7,652.1 120.2,652 C120.8,651.9 121.3,651.7 121.8,651.7 C122.4,651.6 122.9,651.5 123.5,651.6 C124,651.7 124.5,652 125.1,652.1 C125.6,652.1 126.2,651.9 126.7,651.8 C127.3,651.8 127.8,651.8 128.3,651.9 C128.9,652 129.4,652.4 130,652.4 C130.5,652.4 131.1,651.9 131.6,651.9 C132.1,651.9 132.7,652.2 133.2,652.4 C133.8,652.5 134.3,652.8 134.8,652.9 C135.4,653 135.9,652.9 136.5,652.9 C137,653 137.5,653 138.1,653.1 C138.6,653.3 139.2,653.8 139.7,654 C140.2,654.1 140.8,654 141.3,654.2 C141.8,654.4 142.4,654.8 142.9,655.1 C143.5,655.4 144,656 144.5,656.1 C145.1,656.3 145.6,656.2 146.2,656.2 C146.7,656.2 147.2,655.9 147.8,656.1 C148.3,656.2 148.8,656.6 149.4,656.9 C150,657.2 150.6,657.7 151.1,658 C151.7,658.3 152.3,658.3 152.9,658.5 C153.5,658.7 154,658.8 154.6,659.1 C155.2,659.3 155.8,659.7 156.4,659.9 C156.9,660.1 157.5,660.2 158.1,660.3 C158.7,660.5 159.2,660.9 159.8,661 C160.4,661.1 161,660.9 161.6,661.1 C162.1,661.2 162.7,661.6 163.3,661.9 C163.9,662.2 164.5,662.8 165.1,663.1 C165.7,663.3 166.3,663.6 166.9,663.6 C167.5,663.6 168.1,663.1 168.7,663.2 C169.3,663.4 169.9,664.3 170.5,664.5 C171.1,664.8 171.7,664.8 172.3,664.8 C172.9,664.8 173.5,664.9 174.1,664.7 C174.7,664.6 175.3,664.3 175.9,664.1 C176.5,664 177.1,664 177.8,663.9 C178.4,663.8 179,663.5 179.6,663.5 C180.2,663.5 180.8,663.8 181.4,663.7 C182,663.6 182.6,663.1 183.2,662.9 C183.8,662.7 184.4,662.5 185,662.4 C185.5,662.3 186.1,662.5 186.7,662.3 C187.3,662.1 187.9,661.4 188.5,661.3 C189.1,661.1 189.6,661.5 190.2,661.4 C190.8,661.4 191.4,661.2 192,660.9 C192.6,660.7 193.1,660.1 193.7,659.9 C194.3,659.7 194.9,659.6 195.5,659.6 C196.1,659.5 196.7,659.7 197.2,659.5 C197.8,659.3 198.4,658.7 199,658.5 C199.6,658.3 200.1,658.5 200.7,658.4 C201.2,658.3 201.8,657.9 202.3,657.7 C202.9,657.5 203.4,657.2 204,657 C204.5,656.9 205.1,656.8 205.6,656.8 C206.2,656.7 206.7,657 207.3,656.8 C207.8,656.7 208.4,655.9 208.9,655.8 C209.5,655.7 210.1,656.4 210.6,656.3 C211.2,656.2 211.7,655.3 212.3,655.2 C212.8,655 213.4,655.7 213.9,655.5 C214.5,655.4 215,654.6 215.6,654.4 C216.1,654.3 216.7,654.9 217.2,654.8 C217.8,654.7 218.3,654.1 218.9,653.9 C219.5,653.7 220.1,653.6 220.7,653.4 C221.3,653.1 221.9,652.6 222.5,652.3 C223.1,652 223.7,651.8 224.3,651.6 C224.9,651.4 225.5,651.2 226.1,651 C226.7,650.7 227.3,649.9 227.9,650 C228.5,650.1 229.2,651.1 229.9,651.6 C230.6,652 231.2,652.5 231.9,652.9 C232.6,653.3 233.2,653.7 233.9,654.2 C234.6,654.7 235.3,655.6 235.9,655.9 C236.5,656.2 237,655.9 237.6,656 C238.1,656.2 238.7,656.6 239.2,656.9 C239.8,657.2 240.3,657.7 240.9,657.9 C241.4,658.1 241.9,658.1 242.5,658 C243.1,658 243.6,657.7 244.2,657.9 C244.7,658 245.2,657.4 245.8,658.9 C246.4,660.4 247.1,662.5 247.8,666.8 C248.5,671.1 249.2,677.4 249.8,684.7 C250.4,692 250.6,705.3 251.3,710.5 C252,715.7 253.1,710.7 254.2,716 C255.2,721.3 256.7,740 257.6,742.5 C258.6,745 259.1,737.5 259.9,731 C260.7,724.5 261.6,710.9 262.2,703.7 C262.8,696.5 262.9,691.3 263.5,688 C264.1,684.7 264.8,682.6 265.6,683.7 C266.5,684.8 267.8,693.5 268.6,694.6 C269.4,695.8 269.9,696.6 270.6,690.6 C271.3,684.6 271.8,666.8 272.6,658.9 C273.4,651 274.1,646.6 275.6,643 C277.1,639.4 278.9,638.6 281.5,637.1 C284.1,635.6 286.8,635.1 291.4,634.1 C296,633.1 302.9,632.3 309.3,631.1 C315.7,629.9 323.6,628.3 330,627.1 C336.4,625.9 344.5,624 347.8,624.1 C351.1,624.2 349,627.5 349.8,627.5 C350.6,627.5 347.8,625.3 352.8,624.1 C357.8,622.9 369.5,621.1 379.6,620.1 C389.7,619.1 404.4,618.9 413.3,618.2 C422.2,617.6 427.8,616.1 433.1,616.2 C438.4,616.4 442.5,616.6 445,619.1 C447.5,621.6 447.2,624.4 448,631 C448.8,637.6 449.4,651.2 450,658.8 C450.6,666.4 450.9,676.7 451.4,676.7 C451.9,676.7 452.3,663.8 452.9,658.8 C453.5,653.8 453.9,648.9 454.9,646.9 C455.9,644.9 457.9,649.2 458.9,646.9 C459.9,644.6 460.2,635.4 460.9,633 C461.6,630.6 462.2,632.7 462.9,632.4 C463.5,632.1 464.2,630.9 464.8,631 C465.4,631.1 465.9,632.2 466.5,632.8 C467.1,633.4 467.7,634.1 468.2,634.5 C468.8,634.9 469.4,634.8 470,635.2 C470.6,635.6 471.1,634.8 471.7,637.1 C472.3,639.4 472.9,645.3 473.5,649.3 C474.1,653.3 474.7,661 475.3,660.9 C475.9,660.8 476.4,652.4 477,648.5 C477.6,644.5 478.1,640.1 478.7,637.1 C479.3,634.1 480,632.7 480.7,630.3 C481.4,628 482,624.3 482.7,623.2 C483.4,622.1 484,623.4 484.7,623.6 C485.3,623.8 486,623.9 486.6,624.2 C487.3,624.5 487.8,620.1 488.6,625.2 C489.4,630.3 490.6,649.3 491.6,654.9 C492.6,660.5 493.8,657.4 494.6,658.9 C495.4,660.4 495.7,662.5 496.2,664 C496.8,665.4 497.3,666.2 497.9,667.7 C498.4,669.2 498.9,674.1 499.5,672.8 C500.1,671.5 500.8,664.2 501.5,659.9 C502.2,655.6 502.9,649.4 503.5,647 C504.1,644.6 504.6,646.1 505.2,645.4 C505.7,644.7 506.3,643.4 506.8,642.7 C507.4,642 507.9,640.4 508.5,641 C509.1,641.6 509.8,644.3 510.4,646.1 C511.1,647.9 511.7,651.4 512.4,651.9 C513.1,652.4 513.7,650.1 514.4,648.9 C515.1,647.8 515.8,646.1 516.4,645 C517,643.9 517.5,643.1 518.1,642.3 C518.6,641.4 519.2,640.9 519.7,640 C520.3,639.1 520.8,636.7 521.4,637.1 C522,637.5 522.5,640.6 523.1,642.6 C523.7,644.6 524.2,647.7 524.8,649.2 C525.4,650.7 526.1,650.6 526.8,651.4 C527.4,652.2 528,645.9 528.7,654 C529.4,662.1 530.2,701.6 531.1,700 C532,698.4 533.5,652.4 534.3,644.4 C535.1,636.4 535.4,649.3 535.9,652 C536.4,654.6 536.7,653.6 537.5,660.3 C538.3,667 539.8,688.4 540.6,692.1 C541.5,695.8 541.9,685.9 542.6,682.8 C543.3,679.6 543.7,669.3 544.6,673 C545.5,676.7 546.9,701.4 547.8,704.8 C548.7,708.2 549.1,696.9 549.8,693.1 C550.4,689.4 551,678.5 551.7,682.5 C552.4,686.5 553,705.8 553.7,717.2 C554.4,728.6 555,747.1 555.7,750.8 C556.4,754.5 557,742.8 557.7,739.1 C558.4,735.4 559,730.8 559.7,728.6 C560.4,726.4 561.1,726.8 561.8,725.7 C562.5,724.5 563.2,722.7 563.9,721.6 C564.6,720.5 565.2,717.9 566,719 C566.8,720.1 567.6,725.1 568.4,728.3 C569.2,731.4 570.1,740.5 570.8,738.1 C571.5,735.7 571.9,722 572.4,713.6 C572.9,705.3 573.5,696.3 574,688 C574.5,679.6 574.9,669 575.6,663.5 C576.3,658 577.2,657.8 578,655.2 C578.7,652.5 579.6,649.3 580.3,647.6 C581,645.9 581.6,645.9 582.2,645 C582.8,644 583.5,642.8 584.1,641.7 C584.7,640.7 585.4,639.3 586,638.5 C586.6,637.6 587.3,637.6 587.9,636.7 C588.5,635.9 589.2,633.2 589.8,633.3 C590.4,633.4 591,635.8 591.7,637.1 C592.3,638.4 592.9,639.7 593.5,641.2 C594.2,642.7 594.8,645.5 595.4,646 C596,646.5 596.6,644.7 597.3,644.2 C597.9,643.7 598.5,643.5 599.1,643 C599.8,642.5 600.2,635.2 601,641.3 C601.8,647.4 603.1,666.7 604.1,679.4 C605.1,692.1 606.5,717.3 607.3,717.5 C608.1,717.7 608.4,692.9 608.9,680.5 C609.4,668.1 609.8,648.5 610.5,642.9 C611.2,637.3 612.1,645.6 612.9,647.2 C613.6,648.8 614.5,654.1 615.2,652.4 C615.9,650.7 616.5,642.1 617.2,637.1 C617.9,632.1 618.6,625.2 619.2,622.2 C619.8,619.2 620.1,613.8 620.6,619.2 C621.1,624.7 622.2,649 622.5,654.9" fill="none" stroke="#bde3cd" stroke-width="3.6" stroke-linejoin="round" stroke-linecap="round" />
<path d="M82.6,714.7 C82.9,714.6 83.7,714.3 84.3,714.2 C84.8,714.2 85.4,714.5 86,714.4 C86.5,714.4 87.1,714.1 87.6,714.1 C88.2,714 88.8,714.2 89.3,714.2 C89.9,714.2 90.5,714.2 91,714.1 C91.6,713.9 92.1,713.4 92.7,713.2 C93.3,713.1 93.8,712.9 94.4,713 C94.9,713.1 95.5,713.8 96.1,713.8 C96.6,713.8 97.2,713.2 97.8,713 C98.3,712.8 98.9,712.7 99.4,712.8 C100,712.9 100.6,713.6 101.1,713.6 C101.7,713.6 102.2,713 102.8,712.8 C103.4,712.6 103.9,712.5 104.5,712.5 C105,712.5 105.6,712.8 106.1,712.7 C106.7,712.6 107.2,712.2 107.8,712 C108.3,711.9 108.9,712.1 109.5,712 C110,711.8 110.6,711.2 111.1,711.2 C111.7,711.1 112.2,711.4 112.8,711.5 C113.3,711.6 113.9,711.6 114.4,711.5 C115,711.4 115.6,711 116.1,710.9 C116.7,710.8 117.2,710.9 117.8,710.9 C118.3,710.8 118.9,710.7 119.4,710.6 C120,710.4 120.6,710.3 121.1,710.1 C121.6,709.9 122.2,709.4 122.7,709.3 C123.2,709.3 123.8,709.9 124.3,709.9 C124.8,710 125.4,709.7 125.9,709.5 C126.4,709.4 127,709.1 127.5,708.9 C128,708.8 128.6,708.4 129.1,708.4 C129.6,708.4 130.2,709.1 130.7,709.2 C131.2,709.2 131.8,708.6 132.3,708.5 C132.8,708.4 133.4,708.5 133.9,708.5 C134.4,708.5 135,708.6 135.5,708.5 C136,708.4 136.5,707.7 137.1,707.8 C137.7,707.9 138.2,708.6 138.8,709 C139.4,709.4 139.9,710 140.5,710.3 C141.1,710.5 141.6,710.4 142.2,710.6 C142.8,710.8 143.3,711.2 143.9,711.7 C144.5,712.2 145,712.9 145.5,713.4 C146.1,713.8 146.6,713.8 147.2,714.2 C147.7,714.7 148.2,715.6 148.8,716.1 C149.3,716.6 149.9,717.1 150.4,717.4 C151,717.6 151.5,717.4 152,717.7 C152.6,718 153.1,718.5 153.7,719.1 C154.2,719.6 154.8,720.4 155.3,720.8 C155.8,721.2 156.4,721.1 156.9,721.6 C157.5,722.1 158,723.2 158.6,723.6 C159.1,724.1 159.7,723.8 160.2,724.2 C160.8,724.5 161.3,725.2 161.9,725.5 C162.4,725.9 163,725.9 163.5,726.3 C164.1,726.6 164.6,727.2 165.2,727.7 C165.7,728.1 166.2,728.5 166.8,728.8 C167.4,729.1 168,729.3 168.6,729.6 C169.2,729.9 169.8,730.1 170.4,730.5 C171,730.8 171.7,731.3 172.3,731.7 C172.9,732 173.5,732.3 174.1,732.6 C174.7,732.9 175.2,733.1 175.9,733.4 C176.6,733.7 177.4,734.3 178.2,734.4 C179,734.6 179.8,734.7 180.5,734.5 C181.2,734.3 181.6,733.7 182.2,733.3 C182.8,732.9 183.3,732.6 183.9,732.2 C184.5,731.7 185,731.2 185.6,730.7 C186.2,730.1 186.7,729.2 187.3,728.8 C187.9,728.4 188.4,728.6 188.9,728.2 C189.5,727.9 190,727.3 190.6,726.7 C191.1,726.2 191.6,725.3 192.2,725 C192.7,724.6 193.3,724.9 193.8,724.7 C194.4,724.4 194.9,724 195.4,723.6 C196,723.3 196.5,722.9 197.1,722.4 C197.6,722 198.2,721.2 198.7,720.8 C199.2,720.4 199.8,720.4 200.3,720.2 C200.9,720.1 201.4,720.1 202,719.8 C202.5,719.5 203,718.7 203.6,718.5 C204.1,718.3 204.7,718.8 205.2,718.6 C205.8,718.5 206.3,718 206.8,717.7 C207.4,717.4 207.9,716.9 208.5,716.7 C209,716.5 209.6,716.6 210.1,716.3 C210.6,716 211.2,715.3 211.7,715.1 C212.3,715 212.8,715.4 213.4,715.4 C213.9,715.4 214.5,715.3 215,714.9 C215.6,714.5 216.1,713.4 216.7,713.2 C217.2,712.9 217.8,713.5 218.3,713.4 C218.9,713.2 219.4,712.5 220,712.2 C220.5,712 221,711.9 221.6,711.7 C222.2,711.5 222.8,711.3 223.5,711.3 C224.1,711.2 224.7,711.3 225.3,711.5 C226,711.6 226.6,712 227.2,712 C227.8,712.1 228.4,711.5 229.1,711.7 C229.8,711.9 230.6,712.9 231.4,713.3 C232.2,713.7 233,713.9 233.7,714 C234.4,714.1 234.9,713.7 235.5,713.9 C236.1,714.1 236.7,714.9 237.3,715 C237.9,715.2 238.6,714.6 239.2,714.8 C239.8,714.9 240.4,715.8 241,716 C241.6,716.3 241.9,715.2 242.8,716.2 C243.7,717.2 245.2,719 246.2,721.9 C247.1,724.8 247.7,728 248.5,733.3 C249.3,738.6 250,749.9 250.8,753.9 C251.6,757.9 252.3,756.9 253.1,757.3 C253.9,757.7 254.7,753 255.4,756.2 C256.2,759.4 257,771 257.6,776.7 C258.2,782.4 258.2,790.4 258.8,790.4 C259.4,790.4 260.4,783.9 261.1,776.7 C261.9,769.5 262.6,753.9 263.3,747 C264.1,740.1 264.8,737.1 265.6,735.6 C266.4,734.1 267.1,734.7 267.9,737.9 C268.7,741.1 269.4,753.5 270.2,755 C271,756.5 271.9,752.5 272.5,747 C273.1,741.5 272.9,728 273.6,721.9 C274.4,715.8 275.3,713.1 277,710.5 C278.7,707.9 281.8,707.5 283.9,706 C286,704.5 281.7,703.1 289.4,701.5 C297.1,699.9 320.3,697.4 330,696.4 C339.7,695.4 344.2,695.3 347.5,695.3 C350.8,695.3 343.6,697.4 349.8,696.5 C356,695.6 371.5,691.3 384.6,689.8 C397.7,688.3 418.1,688 428.3,687.6 C438.5,687.2 442.2,685.2 445.7,687.6 C449.1,690 448.2,696.5 449,701.8 C449.8,707.1 450,719.6 450.7,719.3 C451.4,718.9 452.8,703.2 453.4,699.7 C454,696.2 452.8,699.2 454.2,698.5 C455.6,697.8 459.6,693.1 461.8,695.3 C464,697.5 465.9,710.5 467.3,711.6 C468.8,712.7 469.2,702 470.5,701.8 C471.8,701.6 473.2,711.6 474.9,710.5 C476.5,709.4 478.4,697.5 480.4,695.3 C482.4,693.1 484.9,697.1 486.9,697.5 C488.9,697.9 490.6,693.1 492.4,697.5 C494.2,701.9 496,723.6 497.8,723.6 C499.6,723.6 501.3,701.9 503.3,697.5 C505.3,693.1 508.4,697 509.8,697.5 C511.2,698 510.6,701.2 512,700.7 C513.5,700.2 517.2,695.7 518.5,694.2 C519.8,692.8 518.7,690.8 520,692 C521.3,693.2 524.4,694.2 526.3,701.6 C528.1,709 529.6,736.5 531.1,736.5 C532.6,736.5 533.5,703.2 535.1,701.6 C536.7,700 539,724.6 540.6,727 C542.2,729.4 543.5,714.3 544.6,715.9 C545.7,717.5 545.9,736 547,736.5 C548.1,737 549.2,714.8 551,719 C552.8,723.2 555,760.1 557.5,762 C560,763.9 563.8,733.9 566,730.2 C568.2,726.5 569.2,746.6 570.8,739.7 C572.4,732.8 574,698.4 575.6,688.9 C577.2,679.4 577.9,684.6 580.3,682.5 C582.7,680.4 587.4,676 589.8,676 C592.2,676 592.7,681.8 594.6,682.5 C596.5,683.2 599,672.6 601,680 C603,687.4 604.8,727 606.5,727 C608.2,727 609.8,686.9 611.3,680 C612.8,673.1 613.9,687.4 615.2,685.7 C616.5,684 618,670 619.2,670 C620.4,670 621.7,682.9 622.2,685.5" fill="none" stroke="#8fd0ac" stroke-width="3.6" stroke-linejoin="round" stroke-linecap="round" />
<path d="M82.6,779 C82.9,778.9 83.7,778.5 84.3,778.2 C84.8,778 85.4,777.8 86,777.7 C86.5,777.7 87.1,778 87.6,778 C88.2,777.9 88.8,777.4 89.3,777.2 C89.9,777.1 90.5,776.8 91,776.8 C91.6,776.8 92.1,777 92.7,777.1 C93.3,777.3 93.8,777.7 94.4,777.8 C94.9,777.8 95.5,777.4 96.1,777.3 C96.6,777.1 97.2,777.2 97.8,776.9 C98.3,776.7 98.9,775.8 99.4,775.7 C100,775.5 100.6,776 101.1,775.9 C101.7,775.9 102.2,775.8 102.8,775.6 C103.4,775.4 103.9,775.1 104.5,774.9 C105.1,774.7 105.7,774.6 106.2,774.4 C106.8,774.3 107.4,774.1 108,774 C108.5,774 109.1,773.8 109.7,774 C110.2,774.1 110.8,774.9 111.4,775 C112,775 112.5,774.6 113.1,774.5 C113.7,774.4 114.2,774.3 114.8,774.2 C115.4,774.1 116,774.2 116.5,773.9 C117.1,773.6 117.7,772.7 118.2,772.5 C118.8,772.3 119.4,772.4 120,772.4 C120.5,772.5 121.1,772.7 121.7,772.7 C122.3,772.7 122.7,772.5 123.4,772.2 C124.1,771.9 124.9,771.5 125.7,770.9 C126.4,770.4 127.2,769.1 127.9,768.8 C128.6,768.5 129.1,768.9 129.6,768.9 C130.2,768.8 130.8,768.8 131.4,768.3 C131.9,767.9 132.5,766.6 133.1,766.3 C133.7,766 134.1,766.2 134.8,766.5 C135.5,766.8 136.3,767.5 137.1,767.8 C137.9,768.2 138.7,768.2 139.4,768.8 C140.1,769.4 140.5,770.6 141.1,771.4 C141.7,772.1 142.2,772.8 142.8,773.4 C143.4,774 143.9,774.3 144.5,775 C145.1,775.8 145.6,777.1 146.2,777.9 C146.8,778.7 147.3,779.2 147.8,779.7 C148.4,780.1 148.9,780 149.5,780.8 C150,781.5 150.5,783.2 151.1,784.1 C151.6,784.9 152.2,785.3 152.7,785.8 C153.3,786.2 153.8,786.6 154.3,787 C154.9,787.4 155.4,787.8 156,788.3 C156.5,788.9 157.1,789.7 157.6,790.5 C158.1,791.3 158.7,792.4 159.2,793 C159.8,793.6 160.3,793.6 160.9,794.2 C161.4,794.8 161.9,795.9 162.5,796.5 C163,797.2 163.6,797.8 164.1,798.3 C164.7,798.8 165.2,799 165.7,799.4 C166.3,799.9 166.8,800.5 167.4,801.1 C167.9,801.7 168.4,802.5 169,803 C169.6,803.5 170.2,804 170.8,804.3 C171.5,804.7 172.1,804.9 172.7,805.2 C173.3,805.4 173.9,805.5 174.5,805.8 C175.1,806.2 175.7,806.7 176.4,807.2 C177,807.7 177.6,808.2 178.2,808.7 C178.8,809.2 179.3,810 179.9,810.4 C180.5,810.8 181,811.8 181.6,811 C182.2,810.2 182.7,807.1 183.3,805.6 C183.9,804.1 184.4,803 185,801.9 C185.6,800.8 186.2,799.5 186.8,798.8 C187.5,798.1 188.1,798.3 188.7,797.6 C189.3,796.9 189.9,795.5 190.5,794.7 C191.1,793.9 191.7,793.5 192.4,792.8 C193,792.1 193.6,791.1 194.2,790.5 C194.8,789.9 195.3,789.8 195.8,789.5 C196.4,789.1 196.9,788.4 197.5,788.2 C198,788.1 198.5,788.8 199.1,788.4 C199.6,788.1 200.2,786.5 200.7,786 C201.3,785.5 201.8,785.7 202.3,785.4 C202.9,785.1 203.4,784.4 204,784.1 C204.5,783.7 205,783.7 205.6,783.6 C206.2,783.5 206.8,783.6 207.4,783.4 C208,783.2 208.6,782.5 209.2,782.3 C209.8,782 210.5,782 211.1,782 C211.7,781.9 212.3,782.3 212.9,782.2 C213.5,782.1 214,781.9 214.7,781.3 C215.4,780.7 216.2,779.5 217,778.7 C217.8,778 218.6,777.3 219.3,776.8 C220,776.3 220.6,776 221.2,775.7 C221.8,775.5 222.4,775.7 223.1,775.2 C223.7,774.6 224.3,773.1 224.9,772.6 C225.6,772 226.2,772.2 226.8,772.1 C227.4,772 228,771.8 228.5,771.9 C229.1,772 229.7,772.4 230.2,772.8 C230.8,773.2 231.4,774 232,774.3 C232.5,774.6 233.1,774.2 233.7,774.4 C234.3,774.6 234.9,775.1 235.5,775.3 C236.1,775.4 236.7,775.1 237.3,775.3 C237.9,775.4 238.6,775.9 239.2,776.1 C239.8,776.3 240.4,776.3 241,776.5 C241.6,776.8 241.7,776.6 242.8,777.8 C243.9,779 246.2,780.3 247.4,783.5 C248.6,786.7 248.9,791.1 249.7,797.2 C250.4,803.3 251.2,817.1 251.9,820 C252.7,822.9 253.4,813.1 254.2,814.3 C255,815.4 255.8,821.8 256.5,826.9 C257.2,832 257.7,843.6 258.3,845.1 C258.9,846.6 259.2,841.7 259.9,836 C260.5,830.3 261.2,817.4 262.2,810.9 C263.1,804.4 264.7,799.1 265.6,797.2 C266.6,795.3 267.1,797.2 267.9,799.5 C268.7,801.8 269.4,813.2 270.2,810.9 C271,808.6 271.6,792.3 272.5,785.8 C273.4,779.3 273.6,775.5 275.9,772.1 C278.2,768.7 277.2,767.2 286.2,765.3 C295.2,763.4 319.4,761.9 330,760.8 C340.6,759.7 340.6,759.5 349.7,758.6 C358.8,757.7 371.2,756.5 384.6,755.3 C398.1,754.1 420.2,751.8 430.4,751.6 C440.6,751.4 442.6,750.9 445.7,754.2 C448.8,757.6 448.2,765.9 449,771.7 C449.8,777.5 450,789.8 450.7,789.2 C451.4,788.7 451.5,772.6 453.4,768.4 C455.2,764.2 459.5,762.5 461.8,764 C464.1,765.5 465.7,776 467.3,777.1 C468.9,778.2 470.3,769.6 471.6,770.5 C472.9,771.4 473.3,784 474.9,782.5 C476.5,781 479,765.1 481.4,761.8 C483.8,758.5 487.1,759.8 489.1,762.9 C491.1,766 491.9,775.8 493.4,780.3 C494.8,784.8 496.1,792 497.8,790.2 C499.5,788.4 501.3,772.9 503.3,769.4 C505.3,765.9 508.4,768.5 509.8,769.4 C511.2,770.3 510.4,775.4 512,774.9 C513.6,774.4 517.2,766.6 519.6,766.2 C522,765.8 524.4,764.5 526.2,772.7 C528,780.9 529.2,815.8 530.5,815.3 C531.8,814.8 532.7,775.9 533.8,769.4 C534.9,762.9 536,771.1 537.1,776 C538.2,780.9 539.2,796.9 540.3,798.9 C541.4,800.9 542.3,786.4 543.6,788 C544.9,789.6 546.7,807.8 548,808.7 C549.3,809.6 549.7,786.5 551.3,793.4 C552.9,800.3 555.4,846.6 557.8,850.2 C560.1,853.9 563.2,819.3 565.4,815.3 C567.6,811.3 569.2,832.9 570.9,826.2 C572.5,819.5 573.7,784.7 575.3,774.9 C576.9,765.1 578.4,769.7 580.7,767.3 C583.1,764.9 586.7,760.5 589.4,760.7 C592.1,760.9 595.1,767.3 597.1,768.4 C599.1,769.5 599.8,758.8 601.4,767.3 C603,775.8 605.3,819.6 606.9,819.6 C608.5,819.6 609.8,774.9 611.2,767.3 C612.7,759.7 614.1,775.8 615.6,773.8 C617.1,771.8 618.9,754.2 620,755.3 C621.1,756.4 621.8,776.1 622.2,780.3" fill="none" stroke="#4aa779" stroke-width="3.6" stroke-linejoin="round" stroke-linecap="round" />
<path d="M82.6,840 C82.9,840 83.7,840 84.3,840 C84.8,840 85.4,840.1 86,840 C86.5,840 87.1,839.9 87.6,839.9 C88.2,839.8 88.8,840.1 89.3,839.9 C89.9,839.8 90.5,839.2 91,839 C91.6,838.9 92.1,839.7 92.7,839.2 C93.3,838.8 93.8,836.7 94.4,836.4 C94.9,836.1 95.5,837 96.1,837.3 C96.6,837.6 97.2,838.3 97.8,838.3 C98.3,838.3 98.9,837.3 99.4,837.2 C100,837 100.6,837.7 101.1,837.5 C101.7,837.4 102.2,836.6 102.8,836.1 C103.4,835.6 103.9,834.8 104.5,834.6 C105.1,834.5 105.7,835.3 106.2,835.3 C106.8,835.2 107.4,834.4 108,834.3 C108.5,834.2 109.1,834.7 109.7,834.7 C110.2,834.8 110.8,834.8 111.4,834.4 C112,834.1 112.5,832.8 113.1,832.5 C113.7,832.2 114.2,832.7 114.8,832.7 C115.4,832.7 116,832.3 116.5,832.5 C117.1,832.7 117.7,833.8 118.2,833.9 C118.8,834 119.4,833.6 120,833.1 C120.5,832.6 121.1,831.3 121.7,831 C122.3,830.8 122.7,831.7 123.4,831.6 C124.1,831.5 124.9,830.9 125.7,830.1 C126.4,829.4 127.3,827.8 127.9,827 C128.5,826.2 129,825.5 129.5,825.3 C130.1,825.2 130.6,826.2 131.2,826 C131.7,825.8 132.3,824.5 132.8,824 C133.4,823.5 133.9,822.8 134.5,823 C135,823.1 135.6,824.9 136.1,824.8 C136.7,824.6 137.2,822.6 137.8,822.2 C138.3,821.9 138.8,821.9 139.4,822.4 C140,822.9 140.9,823.9 141.7,825.1 C142.4,826.2 143.2,827.8 143.9,829.3 C144.6,830.8 145.1,832.9 145.7,834.3 C146.4,835.7 147,836.7 147.6,837.6 C148.2,838.5 148.8,838.4 149.4,839.6 C150,840.9 150.6,843.8 151.3,845.2 C151.9,846.5 152.5,846.7 153.1,847.5 C153.7,848.3 154.2,849.3 154.7,850.2 C155.3,851.1 155.8,852.3 156.4,853 C156.9,853.8 157.4,853.9 158,854.8 C158.5,855.8 159.1,857.7 159.6,858.8 C160.2,859.8 160.7,860 161.2,860.9 C161.8,861.8 162.3,863.2 162.9,864 C163.4,864.8 164,865 164.5,865.8 C165,866.6 165.6,868 166.1,868.6 C166.7,869.3 167.2,869.1 167.8,869.7 C168.3,870.2 168.8,871.2 169.4,871.9 C169.9,872.6 170.5,873 171,873.7 C171.6,874.3 172.1,875.1 172.6,875.7 C173.2,876.4 173.7,876.9 174.3,877.7 C174.8,878.5 175.3,880 175.9,880.6 C176.5,881.2 177,880.8 177.6,881.1 C178.2,881.4 178.7,882.3 179.3,882.5 C179.9,882.7 180.4,882.1 181,882.3 C181.6,882.6 182.1,883.3 182.7,884.1 C183.3,884.9 183.9,886.3 184.4,887.3 C185,888.2 185.6,890.7 186.2,889.8 C186.8,888.9 187.3,884.5 187.9,882.1 C188.5,879.6 189,876.7 189.6,874.9 C190.2,873.1 190.8,872.3 191.4,871.4 C192,870.4 192.6,870.1 193.2,869.1 C193.8,868.1 194.5,866.5 195.1,865.3 C195.7,864 196.3,862.8 196.9,861.8 C197.5,860.7 198.1,859.7 198.7,858.9 C199.3,858.1 199.8,857.7 200.3,857.2 C200.9,856.8 201.4,856.7 202,856 C202.5,855.3 203,853.7 203.6,853.2 C204.1,852.8 204.7,853.8 205.2,853.2 C205.8,852.7 206.3,850.5 206.8,849.9 C207.4,849.3 207.9,850 208.5,849.6 C209,849.2 209.5,847.9 210.1,847.5 C210.7,847.1 211.2,847.6 211.8,847.2 C212.4,846.7 213,845.1 213.5,844.7 C214.1,844.4 214.7,845.4 215.2,845.2 C215.8,845 216.4,843.8 217,843.5 C217.5,843.1 218.1,843.2 218.7,842.9 C219.3,842.6 219.8,842.5 220.4,841.8 C221,841.1 221.5,839.7 222,838.9 C222.5,838.1 223.1,837.6 223.6,836.9 C224.1,836.3 224.7,835.7 225.2,835.2 C225.7,834.6 226.2,833.9 226.8,833.7 C227.4,833.5 228,834.4 228.5,834.2 C229.1,834.1 229.7,832.8 230.2,832.6 C230.8,832.5 231.4,833.3 232,833.3 C232.5,833.3 233.1,832.5 233.7,832.6 C234.3,832.7 234.9,833.7 235.5,834.1 C236.1,834.4 236.7,834.7 237.3,834.8 C237.9,834.8 238.6,834.3 239.2,834.4 C239.8,834.4 240.4,834.8 241,835.1 C241.6,835.3 241.7,834.3 242.8,836 C243.9,837.7 245.9,839.4 247.4,845.1 C248.9,850.8 250.8,865.6 251.9,870.2 C253,874.8 253.4,870.2 254.2,872.5 C255,874.8 255.7,878.2 256.5,883.9 C257.3,889.6 258,906.3 258.8,906.7 C259.6,907.1 260.2,894.9 261.1,886.2 C262.1,877.5 263.6,860 264.5,854.3 C265.4,848.6 266,850.5 266.8,852 C267.6,853.5 268.5,860 269.1,863.4 C269.7,866.8 269.6,876.3 270.2,872.5 C270.8,868.7 271.4,848.2 272.5,840.6 C273.6,833 274.7,830 277,826.9 C279.3,823.8 277.4,823.8 286.2,822.3 C295,820.8 319.2,818.9 330,817.6 C340.8,816.3 341.6,815.4 350.7,814.3 C359.8,813.2 371.7,812.1 384.6,811 C397.5,809.9 418.1,807.9 428.3,807.7 C438.5,807.5 442.2,806.4 445.7,809.9 C449.1,813.4 448.2,823.8 449,828.5 C449.8,833.2 450,839.8 450.7,838.3 C451.4,836.8 451.5,823.2 453.4,819.7 C455.2,816.2 459.3,814.7 461.8,817.4 C464.3,820.1 466.8,834.7 468.4,836 C470,837.3 470.5,825.6 471.6,825.1 C472.7,824.6 473.3,834.2 474.9,832.7 C476.5,831.2 479,819 481.4,816.3 C483.8,813.6 487.1,813.9 489.1,816.3 C491.1,818.7 491.9,826.3 493.4,830.5 C494.8,834.7 496.1,843 497.8,841.4 C499.5,839.8 500.9,824.3 503.3,820.7 C505.7,817.1 509.1,820.3 512,819.6 C514.9,818.9 518.2,815.8 520.7,816.3 C523.2,816.8 525.5,815.1 527.3,822.9 C529,830.7 529.9,863.6 531.2,863.2 C532.5,862.8 533.7,826.9 534.9,820.7 C536.1,814.5 537.1,822 538.2,826.2 C539.3,830.4 540.3,843.3 541.4,845.8 C542.5,848.3 543.6,839.6 544.7,841.4 C545.8,843.2 546.7,855.6 548,856.7 C549.3,857.8 550.7,841.5 552.3,848 C553.9,854.5 555.8,894 557.8,896 C559.8,898 562.1,864.7 564.3,860 C566.5,855.3 569.1,874.3 570.9,867.6 C572.7,860.9 573.5,829.1 575.3,819.6 C577.1,810.1 579.4,813.3 581.8,810.9 C584.1,808.5 586.8,805.4 589.4,805.4 C592,805.4 595.1,809.8 597.1,810.9 C599.1,812 599.8,803.8 601.4,812 C603,820.2 605.3,859.8 606.9,860 C608.5,860.2 609.8,821.6 611.2,813.1 C612.7,804.6 614.1,811.1 615.6,808.7 C617.1,806.3 618.7,797.5 620,798.9 C621.3,800.3 622.7,814.3 623.2,817.4" fill="none" stroke="#2c6c4c" stroke-width="3.6" stroke-linejoin="round" stroke-linecap="round" />
</g>
<line x1="168.3" y1="590.5" x2="185.8" y2="884" stroke="#000" stroke-width="2.2" stroke-dasharray="6 4"/>
<text x="86.5" y="576.5" font-size="22.5" text-anchor="start" >unimer</text>
<text x="86.5" y="643.6" font-size="22.5" text-anchor="start" >LCS</text>
<text x="86.5" y="698.6" font-size="22.5" text-anchor="start" >s-NB</text>
<text x="86.5" y="763" font-size="22.5" text-anchor="start" >m-NB</text>
<text x="86.5" y="822.4" font-size="22.5" text-anchor="start" >d-NB</text>
<text x="178" y="611.9" font-size="20.3">3452cm<tspan font-size="13.5" dy="-8.2">-1</tspan></text>
<text x="184" y="691" font-size="20.3">3426cm<tspan font-size="13.5" dy="-8.2">-1</tspan></text>
<text x="157.9" y="914.8" font-size="20.3">3350cm<tspan font-size="13.5" dy="-8.2">-1</tspan></text>
<line x1="926.2" y1="938" x2="934.9" y2="938" stroke="#000" stroke-width="1.7" />
<text x="920.8" y="945.4" font-size="25" text-anchor="end" >0.0</text>
<line x1="930.4" y1="894.5" x2="934.9" y2="894.5" stroke="#000" stroke-width="1.7" />
<line x1="926.2" y1="851.1" x2="934.9" y2="851.1" stroke="#000" stroke-width="1.7" />
<text x="920.8" y="858.5" font-size="25" text-anchor="end" >0.1</text>
<line x1="930.4" y1="807.6" x2="934.9" y2="807.6" stroke="#000" stroke-width="1.7" />
<line x1="926.2" y1="764.2" x2="934.9" y2="764.2" stroke="#000" stroke-width="1.7" />
<text x="920.8" y="771.6" font-size="25" text-anchor="end" >0.2</text>
<line x1="930.4" y1="720.8" x2="934.9" y2="720.8" stroke="#000" stroke-width="1.7" />
<line x1="926.2" y1="677.3" x2="934.9" y2="677.3" stroke="#000" stroke-width="1.7" />
<text x="920.8" y="684.7" font-size="25" text-anchor="end" >0.3</text>
<line x1="930.4" y1="633.8" x2="934.9" y2="633.8" stroke="#000" stroke-width="1.7" />
<line x1="926.2" y1="590.4" x2="934.9" y2="590.4" stroke="#000" stroke-width="1.7" />
<text x="920.8" y="597.8" font-size="25" text-anchor="end" >0.4</text>
<line x1="930.4" y1="547" x2="934.9" y2="547" stroke="#000" stroke-width="1.7" />
<line x1="926.2" y1="503.5" x2="934.9" y2="503.5" stroke="#000" stroke-width="1.7" />
<text x="920.8" y="510.9" font-size="25" text-anchor="end" >0.5</text>
<line x1="934.9" y1="938" x2="934.9" y2="946.2" stroke="#000" stroke-width="1.7" />
<text x="934.9" y="968.6" font-size="25" text-anchor="middle" >400</text>
<line x1="979.9" y1="938" x2="979.9" y2="942.5" stroke="#000" stroke-width="1.7" />
<line x1="1024.8" y1="938" x2="1024.8" y2="946.2" stroke="#000" stroke-width="1.7" />
<text x="1024.8" y="968.6" font-size="25" text-anchor="middle" >450</text>
<line x1="1069.8" y1="938" x2="1069.8" y2="942.5" stroke="#000" stroke-width="1.7" />
<line x1="1114.8" y1="938" x2="1114.8" y2="946.2" stroke="#000" stroke-width="1.7" />
<text x="1114.8" y="968.6" font-size="25" text-anchor="middle" >500</text>
<line x1="1159.7" y1="938" x2="1159.7" y2="942.5" stroke="#000" stroke-width="1.7" />
<line x1="1204.7" y1="938" x2="1204.7" y2="946.2" stroke="#000" stroke-width="1.7" />
<text x="1204.7" y="968.6" font-size="25" text-anchor="middle" >550</text>
<line x1="1249.7" y1="938" x2="1249.7" y2="942.5" stroke="#000" stroke-width="1.7" />
<line x1="1294.6" y1="938" x2="1294.6" y2="946.2" stroke="#000" stroke-width="1.7" />
<text x="1294.6" y="968.6" font-size="25" text-anchor="middle" >600</text>
<line x1="1339.6" y1="938" x2="1339.6" y2="942.5" stroke="#000" stroke-width="1.7" />
<line x1="1384.6" y1="938" x2="1384.6" y2="946.2" stroke="#000" stroke-width="1.7" />
<text x="1384.6" y="968.6" font-size="25" text-anchor="middle" >650</text>
<line x1="1429.5" y1="938" x2="1429.5" y2="942.5" stroke="#000" stroke-width="1.7" />
<line x1="1474.5" y1="938" x2="1474.5" y2="946.2" stroke="#000" stroke-width="1.7" />
<text x="1474.5" y="968.6" font-size="25" text-anchor="middle" >700</text>
<text x="1204.4" y="1001.6" font-size="24.8" text-anchor="middle" >Wavelength (nm)</text>
<text transform="translate(873.8,837.5) rotate(-90)" font-size="24.7">Absorption (arb.units)</text>
<text x="826" y="500" font-size="35" text-anchor="start" font-weight="bold">d</text>
<defs><clipPath id="clipd"><rect x="934.9" y="503.5" width="542.6" height="436.5"/></clipPath></defs>
<g clip-path="url(#clipd)">
<polyline points="935.3,584 935.6,586.1 936,589 936.5,592.4 937,596.1 937.5,600.1 938,604 938.5,608 939,612.2 939.5,616.6 940,621.1 940.5,625.6 941,630 941.5,634.3 942,638.6 942.5,642.9 943,647.2 943.5,651.6 944,656 944.6,660.6 945.1,665.2 945.7,669.9 946.3,674.6 946.9,679.3 947.5,684 948.1,688.6 948.6,693.3 949.2,697.9 949.7,702.5 950.3,707.2 951,712 951.8,717 952.6,722.3 953.4,727.6 954.3,732.7 955.1,737.6 955.9,742 956.6,745.8 957.2,749.2 957.7,752.3 958.3,755.2 958.9,758.1 959.5,761 960.2,763.9 960.8,766.7 961.5,769.4 962.2,772.2 963,775 963.8,778 964.7,781.3 965.7,784.9 966.8,788.6 967.9,792.1 968.8,795.3 969.6,798 970.2,799.9 970.5,801.3 970.8,802.2 971.1,803.2 971.4,804.3 972,806 972.7,808.2 973.5,810.7 974.5,813.4 975,814.9 977,819.5 979,823.1 981,826.3 983,829.4 985,832.3 987,835 989,837.7 991,840.1 993,842.5 995,844.7 997,846.8 999,848.8 1001,850.8 1003,852.8 1005,854.7 1007,856.7 1009,858.7 1011,860.6 1013,862.6 1015,864.5 1017,866.4 1019,868.2 1021,869.9 1023,871.6 1025,873.1 1027,874.5 1029,875.8 1031,877 1033,878.1 1035,879.1 1037,880.1 1039,881.1 1041,882.1 1043,883.1 1045,884.1 1047,885.1 1049,886 1051,887 1053,887.9 1055,888.9 1057,889.7 1059,890.6 1061,891.3 1063,892.1 1065,892.7 1067,893.3 1069,893.8 1071,894.3 1073,894.7 1075,895 1077,895.3 1079,895.6 1081,895.8 1083,896 1085,896.1 1087,896.2 1089,896.3 1091,896.3 1093,896.3 1095,896.3 1097,896.2 1099,896.1 1101,895.9 1103,895.7 1105,895.4 1107,895 1109,894.5 1111,893.9 1113,893.2 1115,892.5 1117,891.6 1119,890.7 1121,889.7 1123,888.6 1125,887.5 1127,886.4 1129,885.2 1131,884.1 1133,882.9 1135,881.7 1137,880.5 1139,879.3 1141,878.1 1143,877 1145,875.8 1147,874.6 1149,873.5 1151,872.3 1153,871.2 1155,870.1 1157,869 1159,867.9 1161,866.9 1163,865.8 1165,864.9 1167,863.9 1169,863.1 1171,862.4 1173,861.8 1175,861.4 1177,861.2 1179,861.2 1181,861.3 1183,861.7 1185,862.2 1187,862.8 1189,863.5 1191,864.3 1193,865.1 1195,866 1197,866.9 1199,867.8 1201,868.7 1203,869.7 1205,870.7 1207,871.8 1209,872.9 1211,874.1 1213,875.3 1215,876.5 1217,877.8 1219,879.1 1221,880.4 1223,881.7 1225,883.1 1227,884.4 1229,885.7 1231,887 1233,888.3 1235,889.5 1237,890.8 1239,892 1241,893.3 1243,894.5 1245,895.7 1247,897 1249,898.2 1251,899.4 1253,900.7 1255,901.9 1257,903.1 1259,904.4 1261,905.6 1263,906.8 1265,908 1267,909.2 1269,910.3 1271,911.4 1273,912.5 1275,913.5 1277,914.5 1279,915.5 1281,916.5 1283,917.4 1285,918.3 1287,919.2 1289,920.1 1291,920.9 1293,921.7 1295,922.5 1297,923.3 1299,924 1301,924.7 1303,925.4 1305,926.1 1307,926.8 1309,927.4 1311,928 1313,928.6 1315,929.1 1317,929.6 1319,930.2 1321,930.6 1323,931.1 1325,931.5 1327,931.9 1329,932.3 1331,932.6 1333,933 1335,933.3 1337,933.5 1339,933.8 1341,934 1343,934.3 1345,934.5 1347,934.7 1349,934.9 1351,935.1 1353,935.2 1355,935.4 1357,935.5 1359,935.6 1361,935.8 1363,935.9 1365,935.9 1367,936 1369,936.1 1371,936.1 1373,936.2 1375,936.2 1377,936.2 1379,936.3 1381,936.3 1383,936.3 1385,936.3 1387,936.4 1389,936.4 1391,936.4 1393,936.4 1395,936.4 1397,936.4 1399,936.4 1401,936.4 1403,936.5 1405,936.5 1407,936.5 1409,936.5 1411,936.5 1413,936.5 1415,936.5 1417,936.5 1419,936.5 1421,936.5 1423,936.5 1425,936.5 1427,936.5 1429,936.5 1431,936.5 1433,936.5 1435,936.5 1437,936.5 1439,936.5 1441,936.5 1443,936.5 1445,936.5 1447,936.5 1449,936.5 1451,936.5 1453,936.5 1455,936.5 1457,936.5 1459,936.5 1461,936.5 1463,936.5 1465,936.5 1467,936.5 1469,936.5 1471,936.5 1473,936.5 1475,936.5" fill="none" stroke="#a0a0a0" stroke-width="3.0" stroke-linejoin="round" stroke-linecap="round" />
<polyline points="935.6,592 935.9,594 936.2,596.6 936.6,599.7 937.1,603.2 937.5,607 938,611 938.5,615.2 938.9,619.9 939.4,624.8 939.9,629.9 940.4,635 941,640 941.6,645 942.2,650 942.9,655 943.6,660 944.2,665 944.8,670 945.4,675 945.9,680 946.4,685 946.9,689.9 947.4,694.6 947.9,699 948.4,703.2 948.9,707.1 949.4,710.9 949.9,714.4 950.4,717.8 950.8,721 951.2,723.9 951.5,726.4 951.7,728.7 952,731 952.3,733.3 952.7,736 953.2,739 953.7,742.2 954.3,745.6 954.9,748.9 955.5,752.1 956,755 956.5,757.6 957,760 957.5,762.2 957.9,764.4 958.4,766.7 959,769 959.6,771.5 960.3,774 960.9,776.6 961.6,779.2 962.3,781.7 963,784 963.7,786.2 964.3,788.3 965,790.4 965.7,792.3 966.3,794.2 967,796 967.6,797.6 968.2,799 968.7,800.3 969.3,801.7 970,803.2 970.8,805 971.8,807.1 972.8,809.3 973.9,811.7 975,813.9 977,817.8 979,821.7 981,825.4 983,829.2 985,832.8 987,836.3 989,839.8 991,843.2 993,846.4 995,849.6 997,852.6 999,855.4 1001,858.2 1003,860.8 1005,863.2 1007,865.6 1009,867.8 1011,870 1013,872 1015,874 1017,875.9 1019,877.8 1021,879.6 1023,881.4 1025,883.1 1027,884.7 1029,886.2 1031,887.7 1033,889.1 1035,890.4 1037,891.7 1039,892.9 1041,894 1043,895.1 1045,896.1 1047,897.1 1049,898 1051,898.8 1053,899.6 1055,900.4 1057,901.1 1059,901.7 1061,902.4 1063,902.9 1065,903.4 1067,903.7 1069,904 1071,904.2 1073,904.2 1075,904.1 1077,903.9 1079,903.7 1081,903.3 1083,902.9 1085,902.5 1087,901.9 1089,901.3 1091,900.6 1093,899.8 1095,898.8 1097,897.8 1099,896.5 1101,895.1 1103,893.5 1105,891.7 1107,889.8 1109,887.6 1111,885.2 1113,882.6 1115,879.8 1117,877 1119,874.1 1121,871.1 1123,868.2 1125,865.2 1127,862.4 1129,859.6 1131,856.8 1133,854 1135,851.4 1137,848.8 1139,846.3 1141,844 1143,841.9 1145,840 1147,838.3 1149,836.7 1151,835.3 1153,834.1 1155,833.1 1157,832.2 1159,831.6 1161,831.1 1163,830.8 1165,830.7 1167,830.7 1169,831 1171,831.5 1173,832 1175,832.8 1177,833.6 1179,834.6 1181,835.6 1183,836.8 1185,838.1 1187,839.4 1189,840.8 1191,842.2 1193,843.7 1195,845.2 1197,846.7 1199,848.2 1201,849.7 1203,851.2 1205,852.7 1207,854.1 1209,855.6 1211,857 1213,858.4 1215,859.8 1217,861.2 1219,862.5 1221,863.9 1223,865.2 1225,866.4 1227,867.7 1229,868.9 1231,870.1 1233,871.3 1235,872.5 1237,873.6 1239,874.8 1241,876 1243,877.3 1245,878.5 1247,879.9 1249,881.3 1251,882.8 1253,884.3 1255,885.9 1257,887.5 1259,889.1 1261,890.7 1263,892.4 1265,894 1267,895.6 1269,897.1 1271,898.6 1273,900.1 1275,901.5 1277,902.9 1279,904.2 1281,905.5 1283,906.7 1285,908 1287,909.1 1289,910.3 1291,911.4 1293,912.5 1295,913.5 1297,914.6 1299,915.5 1301,916.5 1303,917.4 1305,918.3 1307,919.1 1309,920 1311,920.8 1313,921.5 1315,922.3 1317,923 1319,923.7 1321,924.4 1323,925.1 1325,925.8 1327,926.5 1329,927.2 1331,927.8 1333,928.4 1335,929 1337,929.6 1339,930.2 1341,930.7 1343,931.2 1345,931.7 1347,932.1 1349,932.5 1351,932.8 1353,933.2 1355,933.5 1357,933.8 1359,934 1361,934.2 1363,934.4 1365,934.6 1367,934.8 1369,935 1371,935.1 1373,935.3 1375,935.5 1377,935.6 1379,935.7 1381,935.8 1383,935.9 1385,936 1387,936.1 1389,936.2 1391,936.2 1393,936.3 1395,936.3 1397,936.3 1399,936.4 1401,936.4 1403,936.4 1405,936.4 1407,936.4 1409,936.5 1411,936.5 1413,936.5 1415,936.5 1417,936.5 1419,936.5 1421,936.5 1423,936.5 1425,936.5 1427,936.5 1429,936.5 1431,936.5 1433,936.5 1435,936.5 1437,936.5 1439,936.5 1441,936.5 1443,936.5 1445,936.5 1447,936.5 1449,936.5 1451,936.5 1453,936.4 1455,936.4 1457,936.4 1459,936.4 1461,936.4 1463,936.4 1465,936.4 1467,936.4 1469,936.4 1471,936.4 1473,936.4 1475,936.4" fill="none" stroke="#bde3cd" stroke-width="3.0" stroke-linejoin="round" stroke-linecap="round" />
<polyline points="937.3,619.6 937.9,621.8 938.8,624.9 939.9,628.5 941,632.4 942.1,636.4 943.2,640 944.2,643.5 945.3,647 946.3,650.5 947.4,654 948.4,657.3 949.5,660.6 950.5,663.7 951.6,666.6 952.6,669.5 953.7,672.3 954.7,675.1 955.9,678.1 957.1,681.2 958.4,684.4 959.8,687.6 961.1,690.8 962.5,694 963.8,697.1 965.1,700.1 966.4,703 967.7,705.9 969.1,708.8 970.4,711.7 971.7,714.6 973,717.5 974.4,720.5 975,721.9 977,726.3 979,730.5 981,734.6 983,738.7 985,742.7 987,746.7 989,750.6 991,754.5 993,758.3 995,762 997,765.6 999,769 1001,772.2 1003,775.4 1005,778.3 1007,781.2 1009,784 1011,786.7 1013,789.2 1015,791.7 1017,794.2 1019,796.6 1021,798.9 1023,801.3 1025,803.6 1027,805.9 1029,808.2 1031,810.3 1033,812.4 1035,814.5 1037,816.4 1039,818.2 1041,819.9 1043,821.5 1045,823 1047,824.5 1049,825.8 1051,827 1053,828.1 1055,829.1 1057,830.1 1059,830.9 1061,831.6 1063,832.2 1065,832.6 1067,833 1069,833.2 1071,833.3 1073,833.3 1075,833.1 1077,832.9 1079,832.5 1081,832 1083,831.4 1085,830.7 1087,829.9 1089,829.1 1091,828.1 1093,827 1095,825.9 1097,824.6 1099,823.2 1101,821.7 1103,820 1105,818.1 1107,816.1 1109,813.8 1111,811.4 1113,808.9 1115,806.1 1117,803.3 1119,800.4 1121,797.6 1123,794.9 1125,792.5 1127,790.4 1129,788.7 1131,787.4 1133,786.5 1135,786 1137,785.9 1139,786.3 1141,787.2 1143,788.7 1145,790.6 1147,793.1 1149,796 1151,799.3 1153,802.8 1155,806.7 1157,810.7 1159,815 1161,819.4 1163,823.9 1165,828.6 1167,833.3 1169,838.2 1171,843.1 1173,847.9 1175,852.7 1177,857.4 1179,862 1181,866.3 1183,870.5 1185,874.3 1187,877.9 1189,881.3 1191,884.4 1193,887.2 1195,889.9 1197,892.3 1199,894.6 1201,896.7 1203,898.7 1205,900.5 1207,902.3 1209,903.9 1211,905.5 1213,907 1215,908.4 1217,909.7 1219,910.9 1221,912.1 1223,913.2 1225,914.2 1227,915.2 1229,916.2 1231,917.1 1233,918 1235,918.9 1237,919.8 1239,920.7 1241,921.6 1243,922.5 1245,923.4 1247,924.3 1249,925.2 1251,926 1253,926.8 1255,927.6 1257,928.4 1259,929.1 1261,929.7 1263,930.3 1265,930.9 1267,931.4 1269,931.9 1271,932.3 1273,932.7 1275,933.1 1277,933.5 1279,933.8 1281,934.1 1283,934.4 1285,934.6 1287,934.8 1289,935.1 1291,935.3 1293,935.4 1295,935.6 1297,935.7 1299,935.8 1301,935.9 1303,936 1305,936 1307,936.1 1309,936.1 1311,936.2 1313,936.2 1315,936.2 1317,936.3 1319,936.3 1321,936.3 1323,936.3 1325,936.3 1327,936.4 1329,936.4 1331,936.4 1333,936.4 1335,936.4 1337,936.4 1339,936.4 1341,936.5 1343,936.5 1345,936.5 1347,936.5 1349,936.5 1351,936.5 1353,936.5 1355,936.5 1357,936.5 1359,936.5 1361,936.5 1363,936.6 1365,936.6 1367,936.6 1369,936.6 1371,936.6 1373,936.6 1375,936.6 1377,936.6 1379,936.6 1381,936.6 1383,936.6 1385,936.6 1387,936.6 1389,936.6 1391,936.6 1393,936.6 1395,936.6 1397,936.6 1399,936.6 1401,936.6 1403,936.6 1405,936.6 1407,936.6 1409,936.6 1411,936.6 1413,936.6 1415,936.6 1417,936.6 1419,936.6 1421,936.6 1423,936.5 1425,936.5 1427,936.5 1429,936.5 1431,936.5 1433,936.5 1435,936.4 1437,936.4 1439,936.4 1441,936.4 1443,936.3 1445,936.3 1447,936.2 1449,936.2 1451,936.1 1453,936 1455,935.9 1457,935.8 1459,935.7 1461,935.5 1463,935.4 1465,935.2 1467,935 1469,934.8 1471,934.6 1473,934.4 1475,934.3" fill="none" stroke="#8fd0ac" stroke-width="3.0" stroke-linejoin="round" stroke-linecap="round" />
<polyline points="936.5,646 936.8,647.3 937.2,649 937.8,651.1 938.4,653.5 939.1,656.1 940,659 941.1,662.3 942.3,666.1 943.7,670.2 945.1,674.2 946.5,678 947.9,681.3 949.2,684 950.6,686.2 951.9,688.2 953.2,690.1 954.6,692 955.9,694 957.2,696.1 958.5,698.3 959.9,700.5 961.2,702.6 962.5,704.7 963.8,706.7 965.1,708.6 966.4,710.4 967.7,712.2 969.1,713.9 970.4,715.8 971.7,717.8 973,720 974.4,722.4 975,723.6 977,727.3 979,730.7 981,733.7 983,736.6 985,739.4 987,742.1 989,744.7 991,747.2 993,749.7 995,752.1 997,754.5 999,756.7 1001,758.9 1003,761 1005,763.1 1007,765 1009,766.8 1011,768.6 1013,770.2 1015,771.7 1017,773.2 1019,774.6 1021,775.9 1023,777 1025,778.1 1027,779 1029,779.9 1031,780.7 1033,781.4 1035,782 1037,782.6 1039,783.1 1041,783.5 1043,783.9 1045,784.2 1047,784.4 1049,784.5 1051,784.5 1053,784.4 1055,784.2 1057,783.9 1059,783.5 1061,782.9 1063,782.2 1065,781.3 1067,780.3 1069,779.2 1071,778 1073,776.7 1075,775.5 1077,774.2 1079,772.9 1081,771.6 1083,770.4 1085,769 1087,767.7 1089,766.2 1091,764.7 1093,763.1 1095,761.3 1097,759.5 1099,757.5 1101,755.5 1103,753.6 1105,751.6 1107,749.8 1109,748.2 1111,746.9 1113,745.9 1115,745.3 1117,745 1119,745.2 1121,745.7 1123,746.5 1125,747.6 1127,748.9 1129,750.5 1131,752.1 1133,753.9 1135,755.9 1137,758 1139,760.2 1141,762.6 1143,765.1 1145,767.8 1147,770.8 1149,773.9 1151,777.4 1153,781.2 1155,785.3 1157,789.7 1159,794.3 1161,799.2 1163,804.3 1165,809.5 1167,814.7 1169,820 1171,825.3 1173,830.5 1175,835.6 1177,840.5 1179,845.1 1181,849.6 1183,853.8 1185,857.7 1187,861.3 1189,864.7 1191,867.8 1193,870.6 1195,873.2 1197,875.7 1199,877.9 1201,879.9 1203,881.8 1205,883.6 1207,885.2 1209,886.7 1211,888.1 1213,889.4 1215,890.6 1217,891.8 1219,892.8 1221,893.8 1223,894.7 1225,895.6 1227,896.4 1229,897.2 1231,898 1233,898.8 1235,899.7 1237,900.6 1239,901.6 1241,902.6 1243,903.8 1245,905 1247,906.2 1249,907.5 1251,908.8 1253,910.1 1255,911.4 1257,912.6 1259,913.8 1261,914.9 1263,915.9 1265,916.9 1267,917.8 1269,918.7 1271,919.6 1273,920.4 1275,921.2 1277,921.9 1279,922.7 1281,923.4 1283,924.1 1285,924.7 1287,925.4 1289,926 1291,926.6 1293,927.2 1295,927.7 1297,928.2 1299,928.7 1301,929.2 1303,929.6 1305,930 1307,930.4 1309,930.8 1311,931.1 1313,931.4 1315,931.8 1317,932.1 1319,932.4 1321,932.6 1323,932.9 1325,933.2 1327,933.4 1329,933.6 1331,933.8 1333,934.1 1335,934.2 1337,934.4 1339,934.6 1341,934.8 1343,934.9 1345,935 1347,935.2 1349,935.3 1351,935.4 1353,935.5 1355,935.6 1357,935.6 1359,935.7 1361,935.8 1363,935.8 1365,935.9 1367,935.9 1369,936 1371,936 1373,936 1375,936.1 1377,936.1 1379,936.1 1381,936.2 1383,936.2 1385,936.2 1387,936.2 1389,936.3 1391,936.3 1393,936.3 1395,936.3 1397,936.4 1399,936.4 1401,936.4 1403,936.4 1405,936.5 1407,936.5 1409,936.5 1411,936.5 1413,936.5 1415,936.6 1417,936.6 1419,936.6 1421,936.6 1423,936.6 1425,936.6 1427,936.6 1429,936.6 1431,936.5 1433,936.5 1435,936.5 1437,936.4 1439,936.4 1441,936.3 1443,936.3 1445,936.2 1447,936.1 1449,936 1451,935.9 1453,935.8 1455,935.7 1457,935.6 1459,935.5 1461,935.4 1463,935.3 1465,935.2 1467,935.1 1469,934.9 1471,934.8 1473,934.7 1475,934.7" fill="none" stroke="#4aa779" stroke-width="3.0" stroke-linejoin="round" stroke-linecap="round" />
<polyline points="935,688.5 935.4,689 935.9,689.5 936.5,690.3 937.3,691.2 938.5,692.4 940,694 942,696.1 944.5,698.6 947.3,701.4 950.2,704.3 953.1,707.1 955.9,709.8 958.5,712.3 961.2,714.9 963.8,717.4 966.4,719.8 969.1,722.1 971.7,724.1 974.3,725.9 975,726.4 977,727.6 979,728.7 981,729.7 983,730.7 985,731.6 987,732.3 989,733.1 991,733.8 993,734.4 995,734.9 997,735.4 999,735.9 1001,736.3 1003,736.7 1005,737 1007,737.3 1009,737.6 1011,737.8 1013,737.9 1015,738 1017,738 1019,737.9 1021,737.7 1023,737.4 1025,737.1 1027,736.8 1029,736.3 1031,735.8 1033,735.3 1035,734.6 1037,733.9 1039,733.2 1041,732.4 1043,731.5 1045,730.6 1047,729.7 1049,728.8 1051,727.9 1053,726.9 1055,725.8 1057,724.6 1059,723.4 1061,722 1063,720.4 1065,718.6 1067,716.7 1069,714.7 1071,712.5 1073,710.2 1075,707.9 1077,705.6 1079,703.3 1081,701 1083,698.7 1085,696.5 1087,694.4 1089,692.4 1091,690.5 1093,688.7 1095,687.2 1097,685.8 1099,684.6 1101,683.6 1103,682.9 1105,682.4 1107,682.2 1109,682.3 1111,682.9 1113,683.8 1115,685.1 1117,686.9 1119,689.1 1121,691.6 1123,694.6 1125,697.9 1127,701.6 1129,705.6 1131,710 1133,714.7 1135,719.6 1137,724.9 1139,730.3 1141,735.9 1143,741.8 1145,747.8 1147,754.1 1149,760.6 1151,767.3 1153,774.3 1155,781.5 1157,788.9 1159,796.5 1161,804.2 1163,811.8 1165,819.3 1167,826.7 1169,833.7 1171,840.3 1173,846.5 1175,852.2 1177,857.4 1179,862.1 1181,866.4 1183,870.2 1185,873.8 1187,877.1 1189,880.1 1191,882.8 1193,885.4 1195,887.8 1197,890.1 1199,892.3 1201,894.5 1203,896.5 1205,898.5 1207,900.4 1209,902.2 1211,904 1213,905.6 1215,907.2 1217,908.7 1219,910.1 1221,911.5 1223,912.7 1225,913.9 1227,915 1229,916 1231,917 1233,918 1235,918.9 1237,919.9 1239,920.9 1241,921.9 1243,922.9 1245,923.9 1247,924.8 1249,925.8 1251,926.6 1253,927.4 1255,928.2 1257,928.9 1259,929.6 1261,930.2 1263,930.8 1265,931.4 1267,931.9 1269,932.4 1271,932.9 1273,933.3 1275,933.8 1277,934.1 1279,934.4 1281,934.7 1283,935 1285,935.2 1287,935.5 1289,935.7 1291,935.8 1293,936 1295,936.1 1297,936.2 1299,936.3 1301,936.4 1303,936.5 1305,936.5 1307,936.6 1309,936.6 1311,936.6 1313,936.6 1315,936.6 1317,936.6 1319,936.6 1321,936.6 1323,936.6 1325,936.6 1327,936.6 1329,936.6 1331,936.6 1333,936.6 1335,936.6 1337,936.6 1339,936.6 1341,936.6 1343,936.6 1345,936.6 1347,936.6 1349,936.6 1351,936.6 1353,936.6 1355,936.6 1357,936.6 1359,936.6 1361,936.6 1363,936.6 1365,936.6 1367,936.6 1369,936.6 1371,936.6 1373,936.7 1375,936.7 1377,936.7 1379,936.7 1381,936.7 1383,936.7 1385,936.7 1387,936.7 1389,936.7 1391,936.7 1393,936.7 1395,936.7 1397,936.7 1399,936.7 1401,936.7 1403,936.7 1405,936.7 1407,936.7 1409,936.7 1411,936.7 1413,936.7 1415,936.6 1417,936.6 1419,936.6 1421,936.6 1423,936.6 1425,936.6 1427,936.6 1429,936.6 1431,936.6 1433,936.6 1435,936.6 1437,936.6 1439,936.6 1441,936.6 1443,936.6 1445,936.6 1447,936.6 1449,936.5 1451,936.5 1453,936.5 1455,936.5 1457,936.4 1459,936.4 1461,936.4 1463,936.3 1465,936.3 1467,936.2 1469,936.2 1471,936.1 1473,936.1 1475,936.1" fill="none" stroke="#2c6c4c" stroke-width="3.0" stroke-linejoin="round" stroke-linecap="round" />
</g>
<rect x="934.9" y="503.5" width="539.6" height="434.5" fill="none" stroke="#000" stroke-width="2.0"/>
<text x="1082" y="675.5" font-size="20.3" text-anchor="start" >495nm</text>
<text x="1179.5" y="833.7" font-size="20.3" text-anchor="start" >525nm</text>
<text x="1138.5" y="896.3" font-size="20.3" text-anchor="start" >532nm</text>
<rect x="1328.7" y="513.4" width="130.6" height="141.3" fill="#fff" stroke="#555" stroke-width="1"/>
<line x1="1330.6" y1="528.4" x2="1382.8" y2="528.4" stroke="#a0a0a0" stroke-width="2.8" />
<text x="1387.5" y="536.2" font-size="22.8" text-anchor="start" >unimer</text>
<line x1="1330.6" y1="556.2" x2="1382.8" y2="556.2" stroke="#bde3cd" stroke-width="2.8" />
<text x="1387.5" y="564" font-size="22.8" text-anchor="start" >LCS</text>
<line x1="1330.6" y1="584" x2="1382.8" y2="584" stroke="#8fd0ac" stroke-width="2.8" />
<text x="1387.5" y="591.8" font-size="22.8" text-anchor="start" >s-NB</text>
<line x1="1330.6" y1="611.8" x2="1382.8" y2="611.8" stroke="#4aa779" stroke-width="2.8" />
<text x="1387.5" y="619.6" font-size="22.8" text-anchor="start" >m-NB</text>
<line x1="1330.6" y1="639.6" x2="1382.8" y2="639.6" stroke="#2c6c4c" stroke-width="2.8" />
<text x="1387.5" y="647.4" font-size="22.8" text-anchor="start" >d-NB</text>
</svg>
</body></html>
